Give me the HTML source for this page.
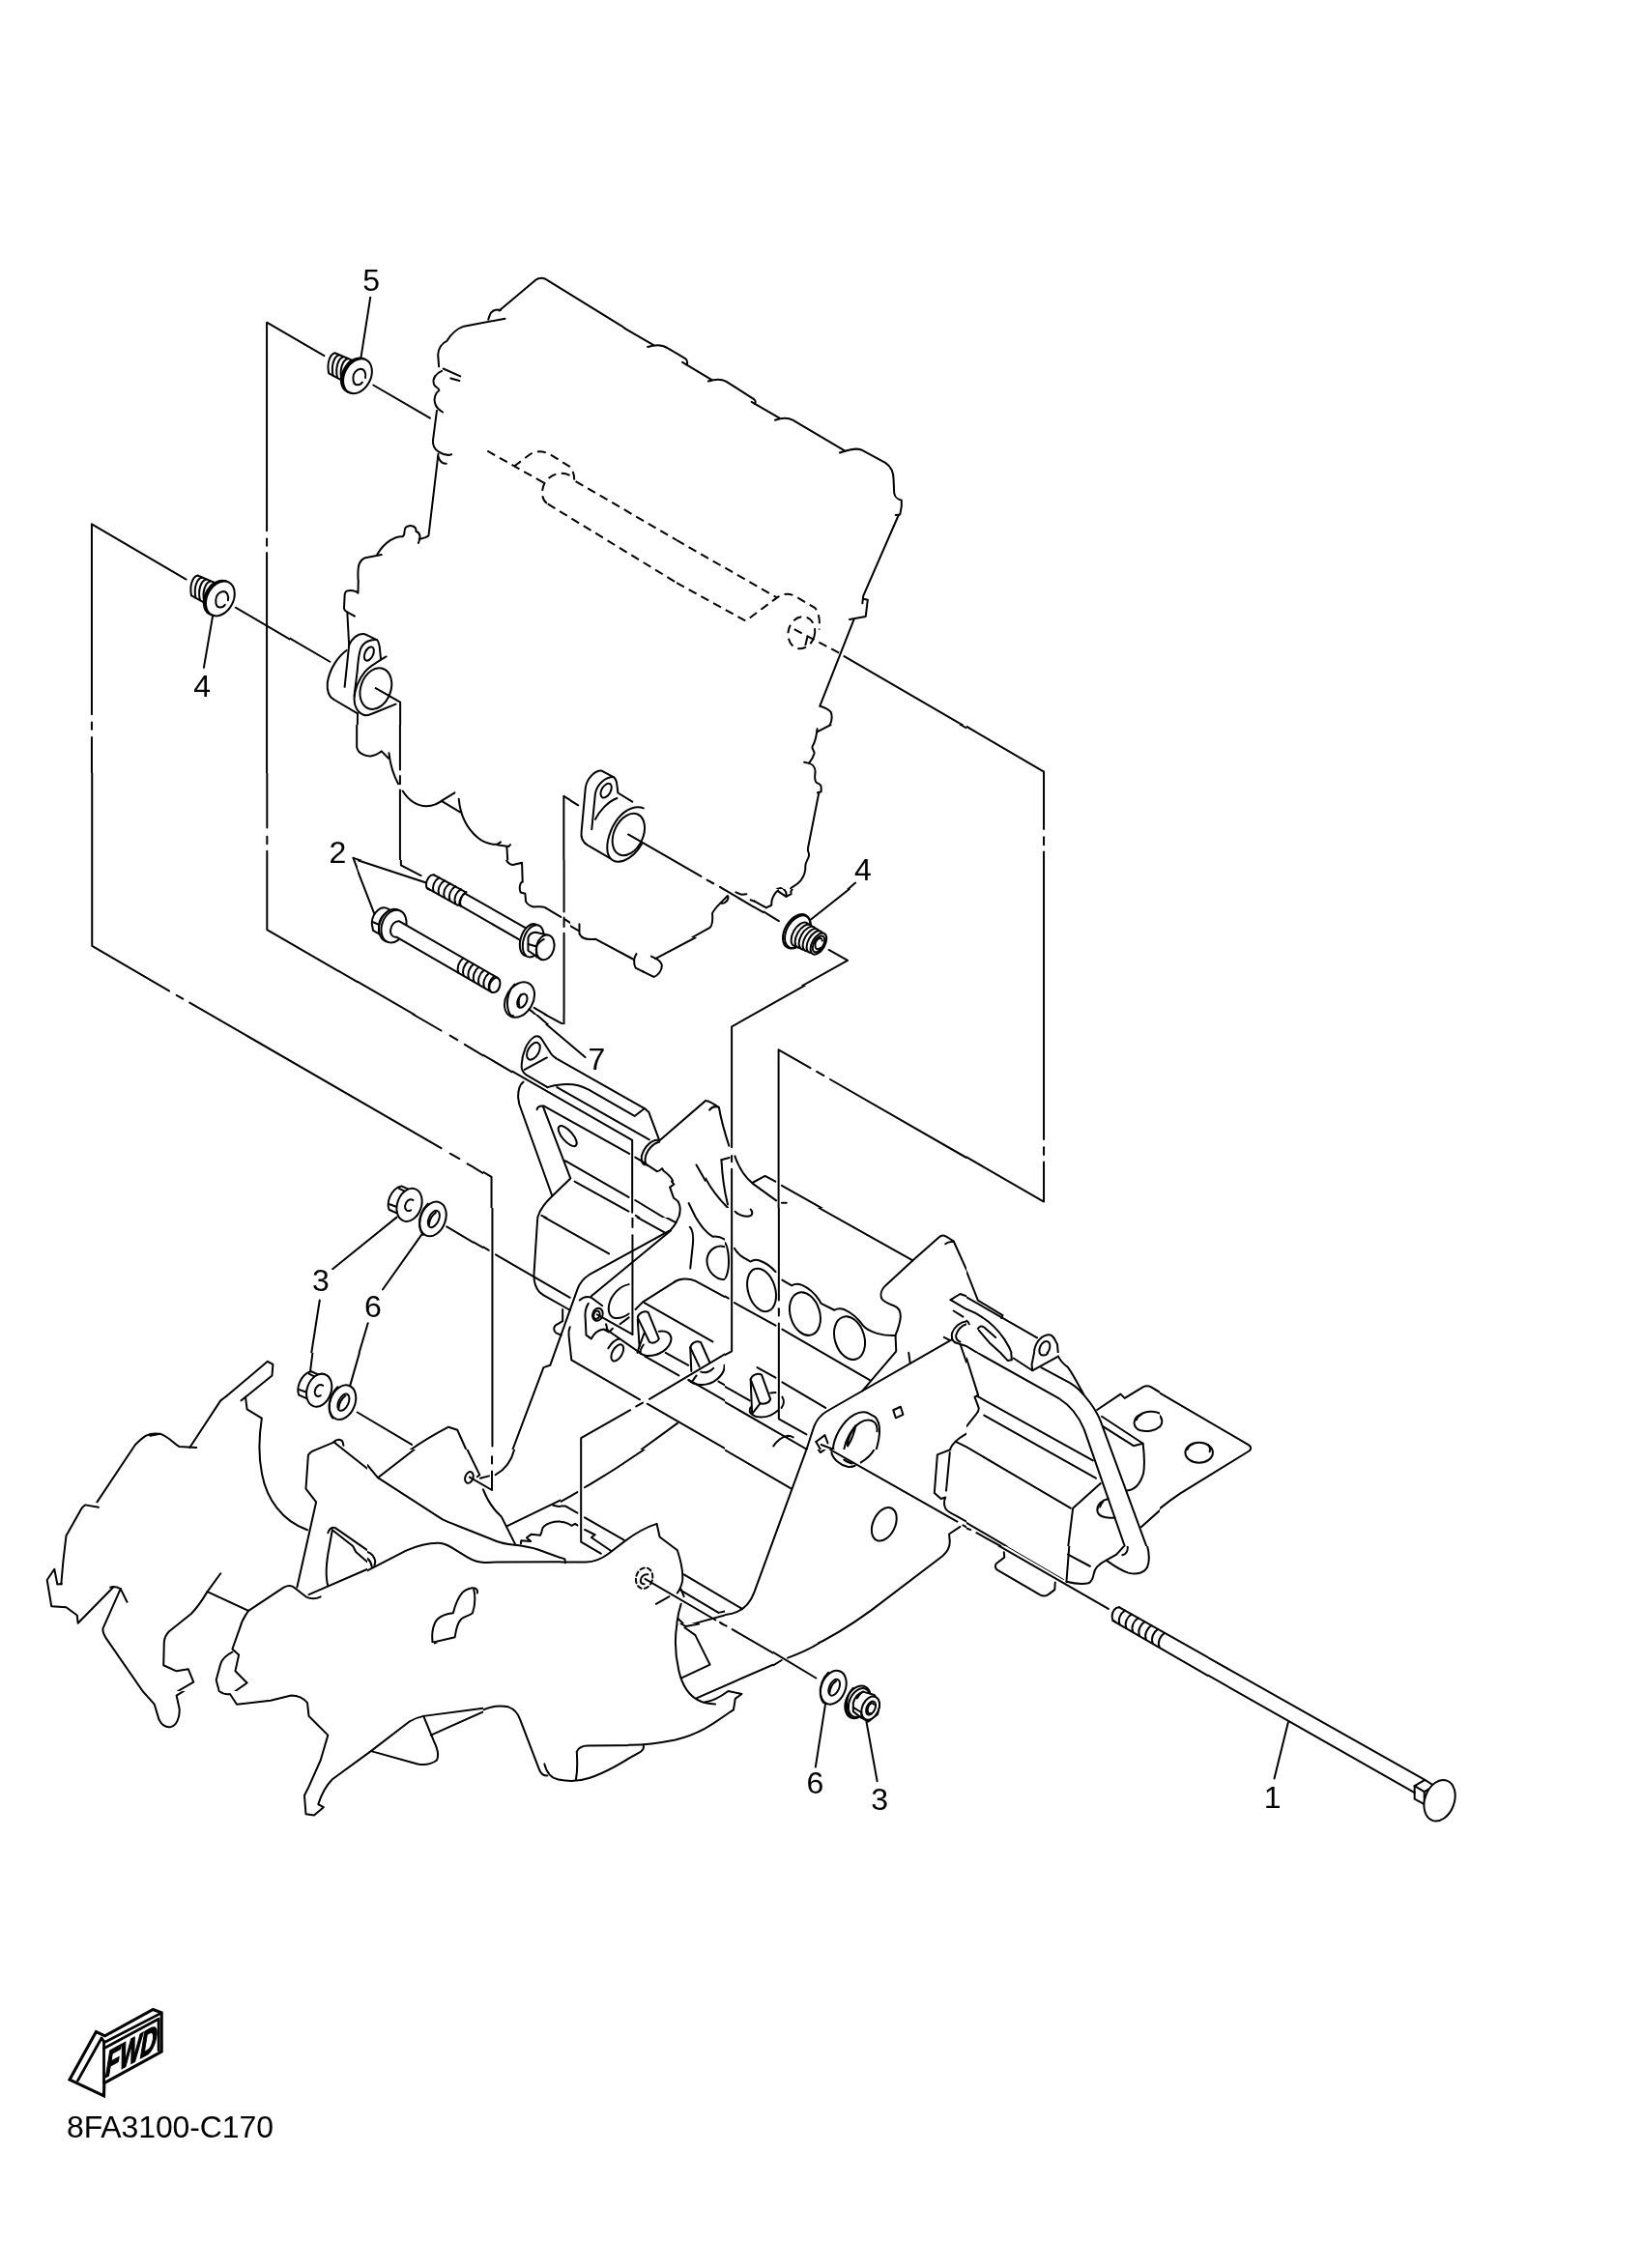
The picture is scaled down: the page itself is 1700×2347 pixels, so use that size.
<!DOCTYPE html>
<html><head><meta charset="utf-8"><title>8FA3100-C170</title>
<style>
html,body{margin:0;padding:0;background:#fff;}
body{width:1700px;height:2347px;overflow:hidden;position:relative;}
svg.main{position:absolute;left:0;top:0;will-change:transform;}
.l path,.l line,.l ellipse,.l circle,.l polyline{fill:none;stroke:#000;stroke-width:2;vector-effect:non-scaling-stroke;stroke-linecap:round;stroke-linejoin:round;}
.l .w{fill:#fff;}
.l .b{fill:#000;}
.l .k{stroke-width:3.2;}
.l .d{stroke-dasharray:9 5.5;stroke-linecap:butt;}
text{font-family:"Liberation Sans",sans-serif;fill:#000;stroke:none;}
</style></head><body>
<svg class="main l" width="1700" height="2347" viewBox="0 0 1700 2347">
<defs><clipPath id="c0"><rect x="200" y="250" width="90" height="250"/><rect x="290" y="250" width="10" height="250"/><rect x="300" y="250" width="50" height="250"/><rect x="300" y="500" width="50" height="100"/><rect x="350" y="250" width="20" height="250"/><rect x="350" y="500" width="20" height="100"/><rect x="370" y="250" width="10" height="250"/><rect x="370" y="500" width="10" height="100"/><rect x="380" y="250" width="110" height="250"/><rect x="380" y="500" width="110" height="100"/><rect x="490" y="250" width="10" height="250"/><rect x="490" y="500" width="10" height="100"/><rect x="500" y="250" width="30" height="250"/><rect x="500" y="500" width="30" height="100"/><rect x="530" y="250" width="20" height="250"/><rect x="530" y="500" width="20" height="100"/><rect x="550" y="250" width="30" height="250"/><rect x="550" y="500" width="30" height="100"/><rect x="550" y="600" width="30" height="150"/><rect x="580" y="250" width="10" height="250"/><rect x="580" y="500" width="10" height="100"/><rect x="580" y="600" width="10" height="150"/><rect x="590" y="250" width="60" height="250"/><rect x="590" y="500" width="60" height="100"/><rect x="590" y="600" width="60" height="150"/><rect x="650" y="250" width="50" height="250"/><rect x="650" y="500" width="50" height="100"/><rect x="650" y="600" width="50" height="150"/></clipPath><clipPath id="c1"><rect x="700" y="250" width="30" height="250"/><rect x="700" y="500" width="30" height="100"/><rect x="700" y="600" width="30" height="150"/><rect x="730" y="250" width="20" height="250"/><rect x="730" y="500" width="20" height="100"/><rect x="730" y="600" width="20" height="150"/><rect x="750" y="250" width="30" height="250"/><rect x="750" y="500" width="30" height="100"/><rect x="750" y="600" width="30" height="150"/><rect x="780" y="250" width="10" height="250"/><rect x="780" y="500" width="10" height="100"/><rect x="780" y="600" width="10" height="150"/><rect x="790" y="250" width="10" height="250"/><rect x="790" y="500" width="10" height="100"/><rect x="790" y="600" width="10" height="150"/><rect x="800" y="250" width="90" height="250"/><rect x="800" y="500" width="90" height="100"/><rect x="800" y="600" width="90" height="150"/><rect x="890" y="250" width="70" height="250"/><rect x="890" y="500" width="70" height="100"/><rect x="890" y="600" width="70" height="150"/><rect x="960" y="250" width="40" height="250"/><rect x="960" y="500" width="40" height="100"/><rect x="960" y="600" width="40" height="150"/><rect x="1000" y="250" width="100" height="250"/><rect x="1000" y="500" width="100" height="100"/><rect x="1000" y="600" width="100" height="150"/><rect x="1100" y="250" width="100" height="250"/><rect x="1100" y="500" width="100" height="100"/><rect x="1100" y="600" width="100" height="150"/></clipPath><clipPath id="c2"><rect x="370" y="890" width="10" height="30"/><rect x="370" y="920" width="10" height="50"/><rect x="370" y="970" width="10" height="30"/><rect x="370" y="1000" width="10" height="20"/><rect x="370" y="1020" width="10" height="30"/><rect x="380" y="890" width="110" height="30"/><rect x="380" y="920" width="110" height="50"/><rect x="380" y="970" width="110" height="30"/><rect x="380" y="1000" width="110" height="20"/><rect x="380" y="1020" width="110" height="30"/><rect x="490" y="890" width="10" height="30"/><rect x="490" y="920" width="10" height="50"/><rect x="490" y="970" width="10" height="30"/><rect x="490" y="1000" width="10" height="20"/><rect x="490" y="1020" width="10" height="30"/><rect x="500" y="890" width="30" height="30"/><rect x="500" y="920" width="30" height="50"/><rect x="500" y="970" width="30" height="30"/><rect x="500" y="1000" width="30" height="20"/><rect x="500" y="1020" width="30" height="30"/><rect x="530" y="890" width="20" height="30"/><rect x="530" y="920" width="20" height="50"/><rect x="530" y="970" width="20" height="30"/><rect x="530" y="1000" width="20" height="20"/><rect x="530" y="1020" width="20" height="30"/><rect x="550" y="890" width="30" height="30"/><rect x="550" y="920" width="30" height="50"/><rect x="550" y="970" width="30" height="30"/><rect x="550" y="1000" width="30" height="20"/><rect x="550" y="1020" width="30" height="30"/><rect x="580" y="890" width="10" height="30"/><rect x="580" y="920" width="10" height="50"/><rect x="580" y="970" width="10" height="30"/><rect x="580" y="1000" width="10" height="20"/><rect x="580" y="1020" width="10" height="30"/></clipPath><clipPath id="c3"><rect x="0" y="500" width="50" height="100"/><rect x="0" y="600" width="50" height="150"/><rect x="0" y="750" width="50" height="20"/><rect x="0" y="770" width="50" height="30"/><rect x="50" y="500" width="150" height="100"/><rect x="50" y="600" width="150" height="150"/><rect x="50" y="750" width="150" height="20"/><rect x="50" y="770" width="150" height="30"/><rect x="200" y="500" width="90" height="100"/><rect x="200" y="600" width="90" height="150"/><rect x="200" y="750" width="90" height="20"/><rect x="200" y="770" width="90" height="30"/><rect x="290" y="500" width="10" height="100"/><rect x="290" y="600" width="10" height="150"/><rect x="290" y="750" width="10" height="20"/><rect x="290" y="770" width="10" height="30"/></clipPath><clipPath id="c4"><rect x="300" y="600" width="50" height="150"/><rect x="300" y="750" width="50" height="20"/><rect x="300" y="770" width="50" height="30"/><rect x="300" y="800" width="50" height="50"/><rect x="350" y="600" width="20" height="150"/><rect x="370" y="600" width="10" height="150"/><rect x="380" y="600" width="110" height="150"/><rect x="490" y="600" width="10" height="150"/><rect x="500" y="600" width="30" height="150"/><rect x="530" y="600" width="20" height="150"/></clipPath><clipPath id="c5"><rect x="350" y="750" width="20" height="20"/><rect x="350" y="770" width="20" height="30"/><rect x="350" y="800" width="20" height="50"/><rect x="350" y="850" width="20" height="40"/><rect x="350" y="890" width="20" height="30"/><rect x="350" y="920" width="20" height="50"/><rect x="350" y="970" width="20" height="30"/><rect x="350" y="1000" width="20" height="20"/><rect x="350" y="1020" width="20" height="30"/><rect x="370" y="750" width="10" height="20"/><rect x="370" y="770" width="10" height="30"/><rect x="370" y="800" width="10" height="50"/><rect x="370" y="850" width="10" height="40"/><rect x="380" y="750" width="110" height="20"/><rect x="380" y="770" width="110" height="30"/><rect x="380" y="800" width="110" height="50"/><rect x="380" y="850" width="110" height="40"/><rect x="490" y="750" width="10" height="20"/><rect x="490" y="770" width="10" height="30"/><rect x="490" y="800" width="10" height="50"/><rect x="490" y="850" width="10" height="40"/><rect x="500" y="750" width="30" height="20"/><rect x="500" y="770" width="30" height="30"/><rect x="500" y="800" width="30" height="50"/><rect x="500" y="850" width="30" height="40"/><rect x="530" y="750" width="20" height="20"/><rect x="530" y="770" width="20" height="30"/><rect x="530" y="800" width="20" height="50"/><rect x="530" y="850" width="20" height="40"/><rect x="550" y="750" width="30" height="20"/><rect x="550" y="770" width="30" height="30"/><rect x="550" y="800" width="30" height="50"/><rect x="550" y="850" width="30" height="40"/><rect x="580" y="750" width="10" height="20"/><rect x="580" y="770" width="10" height="30"/><rect x="580" y="800" width="10" height="50"/><rect x="580" y="850" width="10" height="40"/><rect x="590" y="750" width="60" height="20"/></clipPath><clipPath id="c6"><rect x="0" y="800" width="50" height="50"/><rect x="0" y="850" width="50" height="40"/><rect x="0" y="890" width="50" height="30"/><rect x="0" y="920" width="50" height="50"/><rect x="0" y="970" width="50" height="30"/><rect x="0" y="1000" width="50" height="20"/><rect x="0" y="1020" width="50" height="30"/><rect x="0" y="1050" width="50" height="10"/><rect x="0" y="1060" width="50" height="140"/><rect x="0" y="1200" width="50" height="50"/><rect x="50" y="800" width="150" height="50"/><rect x="50" y="850" width="150" height="40"/><rect x="50" y="890" width="150" height="30"/><rect x="50" y="920" width="150" height="50"/><rect x="50" y="970" width="150" height="30"/><rect x="50" y="1000" width="150" height="20"/><rect x="50" y="1020" width="150" height="30"/><rect x="50" y="1050" width="150" height="10"/><rect x="50" y="1060" width="150" height="140"/><rect x="50" y="1200" width="150" height="50"/><rect x="200" y="800" width="90" height="50"/><rect x="200" y="850" width="90" height="40"/><rect x="200" y="890" width="90" height="30"/><rect x="200" y="920" width="90" height="50"/><rect x="200" y="970" width="90" height="30"/><rect x="200" y="1000" width="90" height="20"/><rect x="200" y="1020" width="90" height="30"/><rect x="200" y="1050" width="90" height="10"/><rect x="200" y="1060" width="90" height="140"/><rect x="200" y="1200" width="90" height="50"/><rect x="290" y="800" width="10" height="50"/><rect x="290" y="850" width="10" height="40"/><rect x="290" y="890" width="10" height="30"/><rect x="290" y="920" width="10" height="50"/><rect x="290" y="970" width="10" height="30"/><rect x="290" y="1000" width="10" height="20"/><rect x="290" y="1020" width="10" height="30"/><rect x="290" y="1050" width="10" height="10"/><rect x="290" y="1060" width="10" height="140"/><rect x="300" y="850" width="50" height="40"/><rect x="300" y="890" width="50" height="30"/><rect x="300" y="920" width="50" height="50"/><rect x="300" y="970" width="50" height="30"/><rect x="300" y="1000" width="50" height="20"/><rect x="300" y="1020" width="50" height="30"/><rect x="300" y="1050" width="50" height="10"/><rect x="300" y="1060" width="50" height="140"/><rect x="350" y="1050" width="20" height="10"/><rect x="350" y="1060" width="20" height="140"/><rect x="370" y="1050" width="10" height="10"/><rect x="370" y="1060" width="10" height="140"/><rect x="380" y="1050" width="110" height="10"/><rect x="380" y="1060" width="110" height="140"/><rect x="490" y="1050" width="10" height="10"/><rect x="490" y="1060" width="10" height="140"/><rect x="490" y="1200" width="10" height="50"/></clipPath><clipPath id="c7"><rect x="1000" y="750" width="100" height="20"/><rect x="1000" y="770" width="100" height="30"/><rect x="1000" y="800" width="100" height="50"/><rect x="1000" y="850" width="100" height="40"/><rect x="1000" y="890" width="100" height="30"/><rect x="1000" y="920" width="100" height="50"/><rect x="1000" y="970" width="100" height="30"/><rect x="1000" y="1000" width="100" height="20"/><rect x="1000" y="1020" width="100" height="30"/><rect x="1000" y="1050" width="100" height="10"/><rect x="1000" y="1060" width="100" height="140"/><rect x="1000" y="1200" width="100" height="50"/><rect x="1100" y="750" width="100" height="20"/><rect x="1100" y="770" width="100" height="30"/><rect x="1100" y="800" width="100" height="50"/><rect x="1100" y="850" width="100" height="40"/><rect x="1100" y="890" width="100" height="30"/><rect x="1100" y="920" width="100" height="50"/><rect x="1100" y="970" width="100" height="30"/><rect x="1100" y="1000" width="100" height="20"/><rect x="1100" y="1020" width="100" height="30"/><rect x="1100" y="1050" width="100" height="10"/><rect x="1100" y="1060" width="100" height="140"/><rect x="1100" y="1200" width="100" height="50"/><rect x="1200" y="750" width="50" height="20"/><rect x="1200" y="770" width="50" height="30"/><rect x="1200" y="800" width="50" height="50"/><rect x="1200" y="850" width="50" height="40"/><rect x="1200" y="890" width="50" height="30"/><rect x="1200" y="920" width="50" height="50"/><rect x="1200" y="970" width="50" height="30"/><rect x="1200" y="1000" width="50" height="20"/><rect x="1200" y="1020" width="50" height="30"/><rect x="1200" y="1050" width="50" height="10"/><rect x="1200" y="1060" width="50" height="140"/><rect x="1200" y="1200" width="50" height="50"/><rect x="1250" y="750" width="50" height="20"/><rect x="1250" y="770" width="50" height="30"/><rect x="1250" y="800" width="50" height="50"/><rect x="1250" y="850" width="50" height="40"/><rect x="1250" y="890" width="50" height="30"/><rect x="1250" y="920" width="50" height="50"/><rect x="1250" y="970" width="50" height="30"/><rect x="1250" y="1000" width="50" height="20"/><rect x="1250" y="1020" width="50" height="30"/><rect x="1250" y="1050" width="50" height="10"/><rect x="1250" y="1060" width="50" height="140"/><rect x="1250" y="1200" width="50" height="50"/><rect x="1300" y="750" width="200" height="20"/><rect x="1300" y="770" width="200" height="30"/><rect x="1300" y="800" width="200" height="50"/><rect x="1300" y="850" width="200" height="40"/><rect x="1300" y="890" width="200" height="30"/><rect x="1300" y="920" width="200" height="50"/><rect x="1300" y="970" width="200" height="30"/><rect x="1300" y="1000" width="200" height="20"/><rect x="1300" y="1020" width="200" height="30"/><rect x="1300" y="1050" width="200" height="10"/><rect x="1300" y="1060" width="200" height="140"/><rect x="1300" y="1200" width="200" height="50"/></clipPath><clipPath id="c8"><rect x="50" y="2060" width="150" height="40"/><rect x="50" y="2100" width="150" height="90"/><rect x="200" y="2060" width="90" height="40"/><rect x="200" y="2100" width="90" height="90"/><rect x="290" y="2060" width="10" height="40"/><rect x="290" y="2100" width="10" height="90"/></clipPath><clipPath id="c9"><rect x="0" y="1250" width="50" height="10"/><rect x="0" y="1260" width="50" height="40"/><rect x="0" y="1300" width="50" height="100"/><rect x="0" y="1400" width="50" height="100"/><rect x="0" y="1500" width="50" height="50"/><rect x="0" y="1550" width="50" height="50"/><rect x="0" y="1600" width="50" height="80"/><rect x="0" y="1680" width="50" height="20"/><rect x="0" y="1700" width="50" height="50"/><rect x="50" y="1250" width="150" height="10"/><rect x="50" y="1260" width="150" height="40"/><rect x="50" y="1300" width="150" height="100"/><rect x="50" y="1400" width="150" height="100"/><rect x="50" y="1500" width="150" height="50"/><rect x="50" y="1550" width="150" height="50"/><rect x="50" y="1600" width="150" height="80"/><rect x="50" y="1680" width="150" height="20"/><rect x="50" y="1700" width="150" height="50"/><rect x="200" y="1250" width="90" height="10"/><rect x="200" y="1260" width="90" height="40"/><rect x="200" y="1300" width="90" height="100"/><rect x="200" y="1400" width="90" height="100"/><rect x="200" y="1500" width="90" height="50"/><rect x="200" y="1550" width="90" height="50"/><rect x="200" y="1600" width="90" height="80"/><rect x="200" y="1680" width="90" height="20"/><rect x="200" y="1700" width="90" height="50"/><rect x="290" y="1400" width="10" height="100"/><rect x="290" y="1500" width="10" height="50"/><rect x="290" y="1550" width="10" height="50"/><rect x="290" y="1600" width="10" height="80"/><rect x="290" y="1680" width="10" height="20"/><rect x="290" y="1700" width="10" height="50"/><rect x="300" y="1400" width="50" height="100"/><rect x="300" y="1500" width="50" height="50"/><rect x="300" y="1550" width="50" height="50"/><rect x="300" y="1600" width="50" height="80"/><rect x="300" y="1680" width="50" height="20"/><rect x="300" y="1700" width="50" height="50"/><rect x="350" y="1400" width="20" height="100"/><rect x="350" y="1500" width="20" height="50"/><rect x="350" y="1550" width="20" height="50"/><rect x="350" y="1600" width="20" height="80"/><rect x="350" y="1680" width="20" height="20"/><rect x="350" y="1700" width="20" height="50"/><rect x="370" y="1400" width="10" height="100"/><rect x="370" y="1500" width="10" height="50"/><rect x="370" y="1550" width="10" height="50"/><rect x="370" y="1600" width="10" height="80"/><rect x="370" y="1680" width="10" height="20"/><rect x="370" y="1700" width="10" height="50"/><rect x="380" y="1400" width="110" height="100"/><rect x="380" y="1700" width="110" height="50"/><rect x="490" y="1250" width="10" height="10"/><rect x="490" y="1260" width="10" height="40"/><rect x="490" y="1300" width="10" height="100"/><rect x="490" y="1400" width="10" height="100"/><rect x="490" y="1700" width="10" height="50"/></clipPath><clipPath id="c10"><rect x="1000" y="1300" width="100" height="100"/><rect x="1100" y="1300" width="100" height="100"/><rect x="1200" y="1300" width="50" height="100"/><rect x="1200" y="1400" width="50" height="100"/><rect x="1200" y="1500" width="50" height="50"/><rect x="1200" y="1550" width="50" height="50"/><rect x="1250" y="1300" width="50" height="100"/><rect x="1250" y="1400" width="50" height="100"/><rect x="1250" y="1500" width="50" height="50"/><rect x="1250" y="1550" width="50" height="50"/></clipPath><clipPath id="c11"><rect x="1000" y="1400" width="100" height="100"/><rect x="1000" y="1500" width="100" height="50"/><rect x="1000" y="1550" width="100" height="50"/><rect x="1100" y="1400" width="100" height="100"/><rect x="1100" y="1500" width="100" height="50"/><rect x="1100" y="1550" width="100" height="50"/></clipPath><clipPath id="c12"><rect x="1000" y="1600" width="100" height="80"/><rect x="1000" y="1680" width="100" height="20"/><rect x="1000" y="1700" width="100" height="50"/><rect x="1000" y="1750" width="100" height="50"/><rect x="1100" y="1600" width="100" height="80"/><rect x="1100" y="1680" width="100" height="20"/><rect x="1100" y="1700" width="100" height="50"/><rect x="1100" y="1750" width="100" height="50"/><rect x="1200" y="1600" width="50" height="80"/><rect x="1200" y="1680" width="50" height="20"/><rect x="1200" y="1700" width="50" height="50"/><rect x="1200" y="1750" width="50" height="50"/></clipPath><clipPath id="c13"><rect x="0" y="1750" width="50" height="50"/><rect x="0" y="1800" width="50" height="20"/><rect x="0" y="1820" width="50" height="40"/><rect x="0" y="1860" width="50" height="200"/><rect x="0" y="2060" width="50" height="40"/><rect x="0" y="2100" width="50" height="90"/><rect x="0" y="2190" width="50" height="10"/><rect x="0" y="2200" width="50" height="50"/><rect x="50" y="1750" width="150" height="50"/><rect x="50" y="1800" width="150" height="20"/><rect x="50" y="1820" width="150" height="40"/><rect x="50" y="1860" width="150" height="200"/><rect x="50" y="2190" width="150" height="10"/><rect x="50" y="2200" width="150" height="50"/><rect x="200" y="1750" width="90" height="50"/><rect x="200" y="1800" width="90" height="20"/><rect x="200" y="1820" width="90" height="40"/><rect x="200" y="1860" width="90" height="200"/><rect x="200" y="2190" width="90" height="10"/><rect x="200" y="2200" width="90" height="50"/><rect x="290" y="1750" width="10" height="50"/><rect x="290" y="1800" width="10" height="20"/><rect x="290" y="1820" width="10" height="40"/><rect x="290" y="1860" width="10" height="200"/><rect x="290" y="2190" width="10" height="10"/><rect x="290" y="2200" width="10" height="50"/><rect x="300" y="1750" width="50" height="50"/><rect x="300" y="1800" width="50" height="20"/><rect x="300" y="1820" width="50" height="40"/><rect x="300" y="1860" width="50" height="200"/><rect x="300" y="2060" width="50" height="40"/><rect x="300" y="2100" width="50" height="90"/><rect x="300" y="2190" width="50" height="10"/><rect x="300" y="2200" width="50" height="50"/><rect x="350" y="1750" width="20" height="50"/><rect x="350" y="1800" width="20" height="20"/><rect x="350" y="1820" width="20" height="40"/><rect x="350" y="1860" width="20" height="200"/><rect x="350" y="2060" width="20" height="40"/><rect x="350" y="2100" width="20" height="90"/><rect x="350" y="2190" width="20" height="10"/><rect x="350" y="2200" width="20" height="50"/><rect x="370" y="1750" width="10" height="50"/><rect x="370" y="1800" width="10" height="20"/><rect x="370" y="1820" width="10" height="40"/><rect x="370" y="1860" width="10" height="200"/><rect x="370" y="2060" width="10" height="40"/><rect x="370" y="2100" width="10" height="90"/><rect x="370" y="2190" width="10" height="10"/><rect x="370" y="2200" width="10" height="50"/><rect x="380" y="1750" width="110" height="50"/><rect x="380" y="1800" width="110" height="20"/><rect x="380" y="1820" width="110" height="40"/><rect x="380" y="1860" width="110" height="200"/><rect x="380" y="2060" width="110" height="40"/><rect x="380" y="2100" width="110" height="90"/><rect x="380" y="2190" width="110" height="10"/><rect x="380" y="2200" width="110" height="50"/><rect x="490" y="1750" width="10" height="50"/><rect x="490" y="1800" width="10" height="20"/><rect x="490" y="1820" width="10" height="40"/><rect x="490" y="1860" width="10" height="200"/><rect x="490" y="2060" width="10" height="40"/><rect x="490" y="2100" width="10" height="90"/><rect x="490" y="2190" width="10" height="10"/><rect x="490" y="2200" width="10" height="50"/></clipPath><clipPath id="c14"><rect x="500" y="1750" width="30" height="50"/><rect x="500" y="1800" width="30" height="20"/><rect x="500" y="1820" width="30" height="40"/><rect x="500" y="1860" width="30" height="200"/><rect x="500" y="2060" width="30" height="40"/><rect x="500" y="2100" width="30" height="90"/><rect x="500" y="2190" width="30" height="10"/><rect x="530" y="1750" width="20" height="50"/><rect x="530" y="1800" width="20" height="20"/><rect x="530" y="1820" width="20" height="40"/><rect x="530" y="1860" width="20" height="200"/><rect x="530" y="2060" width="20" height="40"/><rect x="530" y="2100" width="20" height="90"/><rect x="530" y="2190" width="20" height="10"/><rect x="550" y="1750" width="30" height="50"/><rect x="550" y="1800" width="30" height="20"/><rect x="550" y="1820" width="30" height="40"/><rect x="550" y="1860" width="30" height="200"/><rect x="550" y="2060" width="30" height="40"/><rect x="550" y="2100" width="30" height="90"/><rect x="550" y="2190" width="30" height="10"/><rect x="580" y="1750" width="10" height="50"/><rect x="580" y="1800" width="10" height="20"/><rect x="580" y="1820" width="10" height="40"/><rect x="580" y="1860" width="10" height="200"/><rect x="580" y="2060" width="10" height="40"/><rect x="580" y="2100" width="10" height="90"/><rect x="580" y="2190" width="10" height="10"/><rect x="590" y="1750" width="60" height="50"/><rect x="590" y="1800" width="60" height="20"/><rect x="590" y="1820" width="60" height="40"/><rect x="590" y="1860" width="60" height="200"/><rect x="590" y="2060" width="60" height="40"/><rect x="590" y="2100" width="60" height="90"/><rect x="590" y="2190" width="60" height="10"/><rect x="650" y="1820" width="50" height="40"/><rect x="650" y="1860" width="50" height="200"/><rect x="650" y="2060" width="50" height="40"/><rect x="650" y="2100" width="50" height="90"/><rect x="650" y="2190" width="50" height="10"/><rect x="700" y="1820" width="30" height="40"/><rect x="700" y="1860" width="30" height="200"/><rect x="700" y="2060" width="30" height="40"/><rect x="700" y="2100" width="30" height="90"/><rect x="700" y="2190" width="30" height="10"/><rect x="730" y="1820" width="20" height="40"/><rect x="730" y="1860" width="20" height="200"/><rect x="730" y="2060" width="20" height="40"/><rect x="730" y="2100" width="20" height="90"/><rect x="730" y="2190" width="20" height="10"/><rect x="750" y="1820" width="30" height="40"/><rect x="750" y="1860" width="30" height="200"/><rect x="750" y="2060" width="30" height="40"/><rect x="750" y="2100" width="30" height="90"/><rect x="750" y="2190" width="30" height="10"/><rect x="780" y="1820" width="10" height="40"/><rect x="780" y="1860" width="10" height="200"/><rect x="780" y="2060" width="10" height="40"/><rect x="780" y="2100" width="10" height="90"/><rect x="780" y="2190" width="10" height="10"/><rect x="790" y="1820" width="10" height="40"/><rect x="790" y="1860" width="10" height="200"/><rect x="790" y="2060" width="10" height="40"/><rect x="790" y="2100" width="10" height="90"/><rect x="790" y="2190" width="10" height="10"/><rect x="800" y="1860" width="90" height="200"/><rect x="800" y="2060" width="90" height="40"/><rect x="800" y="2100" width="90" height="90"/><rect x="800" y="2190" width="90" height="10"/><rect x="890" y="1860" width="70" height="200"/><rect x="890" y="2060" width="70" height="40"/><rect x="890" y="2100" width="70" height="90"/><rect x="890" y="2190" width="70" height="10"/><rect x="960" y="1750" width="40" height="50"/><rect x="960" y="1800" width="40" height="20"/><rect x="960" y="1820" width="40" height="40"/><rect x="960" y="1860" width="40" height="200"/><rect x="960" y="2060" width="40" height="40"/><rect x="960" y="2100" width="40" height="90"/><rect x="960" y="2190" width="40" height="10"/></clipPath><clipPath id="c15"><rect x="1100" y="1800" width="100" height="20"/><rect x="1100" y="1820" width="100" height="40"/><rect x="1100" y="1860" width="100" height="200"/><rect x="1100" y="2060" width="100" height="40"/><rect x="1200" y="1800" width="50" height="20"/><rect x="1200" y="1820" width="50" height="40"/><rect x="1200" y="1860" width="50" height="200"/><rect x="1200" y="2060" width="50" height="40"/><rect x="1250" y="1600" width="50" height="80"/><rect x="1250" y="1680" width="50" height="20"/><rect x="1250" y="1700" width="50" height="50"/><rect x="1250" y="1750" width="50" height="50"/><rect x="1250" y="1800" width="50" height="20"/><rect x="1250" y="1820" width="50" height="40"/><rect x="1250" y="1860" width="50" height="200"/><rect x="1250" y="2060" width="50" height="40"/><rect x="1300" y="1600" width="200" height="80"/><rect x="1300" y="1680" width="200" height="20"/><rect x="1300" y="1700" width="200" height="50"/><rect x="1300" y="1750" width="200" height="50"/><rect x="1300" y="1800" width="200" height="20"/><rect x="1300" y="1820" width="200" height="40"/><rect x="1300" y="1860" width="200" height="200"/><rect x="1300" y="2060" width="200" height="40"/><rect x="1500" y="1600" width="100" height="80"/><rect x="1500" y="1680" width="100" height="20"/><rect x="1500" y="1700" width="100" height="50"/><rect x="1500" y="1750" width="100" height="50"/><rect x="1500" y="1800" width="100" height="20"/><rect x="1500" y="1820" width="100" height="40"/><rect x="1500" y="1860" width="100" height="200"/><rect x="1500" y="2060" width="100" height="40"/></clipPath><clipPath id="c16"><rect x="590" y="770" width="60" height="30"/><rect x="590" y="800" width="60" height="50"/><rect x="590" y="850" width="60" height="40"/><rect x="590" y="890" width="60" height="30"/><rect x="590" y="920" width="60" height="50"/><rect x="650" y="770" width="50" height="30"/><rect x="650" y="800" width="50" height="50"/><rect x="650" y="850" width="50" height="40"/><rect x="650" y="890" width="50" height="30"/><rect x="650" y="920" width="50" height="50"/><rect x="700" y="770" width="30" height="30"/><rect x="700" y="800" width="30" height="50"/><rect x="700" y="850" width="30" height="40"/><rect x="700" y="890" width="30" height="30"/><rect x="700" y="920" width="30" height="50"/><rect x="730" y="770" width="20" height="30"/><rect x="730" y="800" width="20" height="50"/><rect x="730" y="850" width="20" height="40"/><rect x="730" y="890" width="20" height="30"/><rect x="730" y="920" width="20" height="50"/><rect x="750" y="770" width="30" height="30"/><rect x="750" y="800" width="30" height="50"/><rect x="750" y="850" width="30" height="40"/><rect x="750" y="890" width="30" height="30"/><rect x="750" y="920" width="30" height="50"/></clipPath><clipPath id="c17"><rect x="750" y="750" width="30" height="20"/><rect x="750" y="970" width="30" height="30"/><rect x="780" y="750" width="10" height="20"/><rect x="780" y="770" width="10" height="30"/><rect x="780" y="800" width="10" height="50"/><rect x="780" y="850" width="10" height="40"/><rect x="780" y="890" width="10" height="30"/><rect x="780" y="920" width="10" height="50"/><rect x="780" y="970" width="10" height="30"/><rect x="790" y="750" width="10" height="20"/><rect x="790" y="770" width="10" height="30"/><rect x="790" y="800" width="10" height="50"/><rect x="790" y="850" width="10" height="40"/><rect x="790" y="890" width="10" height="30"/><rect x="800" y="750" width="90" height="20"/><rect x="800" y="770" width="90" height="30"/><rect x="800" y="800" width="90" height="50"/><rect x="800" y="850" width="90" height="40"/><rect x="800" y="890" width="90" height="30"/><rect x="890" y="750" width="70" height="20"/><rect x="890" y="770" width="70" height="30"/><rect x="890" y="800" width="70" height="50"/><rect x="890" y="850" width="70" height="40"/><rect x="890" y="890" width="70" height="30"/><rect x="890" y="920" width="70" height="50"/><rect x="890" y="970" width="70" height="30"/><rect x="960" y="750" width="40" height="20"/><rect x="960" y="770" width="40" height="30"/><rect x="960" y="800" width="40" height="50"/><rect x="960" y="850" width="40" height="40"/><rect x="960" y="890" width="40" height="30"/><rect x="960" y="920" width="40" height="50"/><rect x="960" y="970" width="40" height="30"/></clipPath><clipPath id="c18"><rect x="500" y="1050" width="30" height="10"/><rect x="500" y="1060" width="30" height="140"/><rect x="500" y="1200" width="30" height="50"/><rect x="530" y="1050" width="20" height="10"/><rect x="550" y="1050" width="30" height="10"/><rect x="580" y="1050" width="10" height="10"/><rect x="590" y="970" width="60" height="30"/><rect x="590" y="1000" width="60" height="20"/><rect x="590" y="1020" width="60" height="30"/><rect x="590" y="1050" width="60" height="10"/><rect x="650" y="970" width="50" height="30"/><rect x="650" y="1000" width="50" height="20"/><rect x="650" y="1020" width="50" height="30"/><rect x="650" y="1050" width="50" height="10"/><rect x="700" y="970" width="30" height="30"/><rect x="700" y="1000" width="30" height="20"/><rect x="700" y="1020" width="30" height="30"/><rect x="700" y="1050" width="30" height="10"/><rect x="730" y="970" width="20" height="30"/></clipPath><clipPath id="c19"><rect x="530" y="1060" width="20" height="140"/><rect x="530" y="1200" width="20" height="50"/><rect x="530" y="1250" width="20" height="10"/><rect x="550" y="1060" width="30" height="140"/><rect x="550" y="1200" width="30" height="50"/><rect x="550" y="1250" width="30" height="10"/><rect x="580" y="1060" width="10" height="140"/><rect x="580" y="1200" width="10" height="50"/><rect x="580" y="1250" width="10" height="10"/><rect x="590" y="1060" width="60" height="140"/><rect x="590" y="1200" width="60" height="50"/><rect x="590" y="1250" width="60" height="10"/><rect x="650" y="1060" width="50" height="140"/><rect x="650" y="1200" width="50" height="50"/><rect x="650" y="1250" width="50" height="10"/><rect x="700" y="1060" width="30" height="140"/><rect x="700" y="1200" width="30" height="50"/><rect x="700" y="1250" width="30" height="10"/></clipPath><clipPath id="c20"><rect x="730" y="1000" width="20" height="20"/><rect x="730" y="1020" width="20" height="30"/><rect x="730" y="1050" width="20" height="10"/><rect x="730" y="1060" width="20" height="140"/><rect x="730" y="1200" width="20" height="50"/><rect x="750" y="1000" width="30" height="20"/><rect x="750" y="1020" width="30" height="30"/><rect x="750" y="1050" width="30" height="10"/><rect x="750" y="1060" width="30" height="140"/><rect x="750" y="1200" width="30" height="50"/><rect x="780" y="1000" width="10" height="20"/><rect x="780" y="1020" width="10" height="30"/><rect x="780" y="1050" width="10" height="10"/><rect x="780" y="1060" width="10" height="140"/><rect x="780" y="1200" width="10" height="50"/><rect x="790" y="1020" width="10" height="30"/><rect x="790" y="1050" width="10" height="10"/><rect x="790" y="1060" width="10" height="140"/><rect x="790" y="1200" width="10" height="50"/><rect x="800" y="1020" width="90" height="30"/><rect x="800" y="1050" width="90" height="10"/><rect x="800" y="1060" width="90" height="140"/><rect x="800" y="1200" width="90" height="50"/><rect x="890" y="1000" width="70" height="20"/><rect x="890" y="1020" width="70" height="30"/><rect x="890" y="1050" width="70" height="10"/><rect x="890" y="1060" width="70" height="140"/><rect x="890" y="1200" width="70" height="50"/><rect x="960" y="1000" width="40" height="20"/><rect x="960" y="1020" width="40" height="30"/><rect x="960" y="1050" width="40" height="10"/><rect x="960" y="1060" width="40" height="140"/><rect x="960" y="1200" width="40" height="50"/></clipPath><clipPath id="c21"><rect x="290" y="1200" width="10" height="50"/><rect x="290" y="1250" width="10" height="10"/><rect x="290" y="1260" width="10" height="40"/><rect x="290" y="1300" width="10" height="100"/><rect x="300" y="1200" width="50" height="50"/><rect x="300" y="1250" width="50" height="10"/><rect x="300" y="1260" width="50" height="40"/><rect x="300" y="1300" width="50" height="100"/><rect x="350" y="1200" width="20" height="50"/><rect x="350" y="1250" width="20" height="10"/><rect x="350" y="1260" width="20" height="40"/><rect x="350" y="1300" width="20" height="100"/><rect x="370" y="1200" width="10" height="50"/><rect x="370" y="1250" width="10" height="10"/><rect x="370" y="1260" width="10" height="40"/><rect x="370" y="1300" width="10" height="100"/><rect x="380" y="1200" width="110" height="50"/><rect x="380" y="1250" width="110" height="10"/><rect x="380" y="1260" width="110" height="40"/><rect x="380" y="1300" width="110" height="100"/></clipPath><clipPath id="c22"><rect x="800" y="1700" width="90" height="50"/><rect x="800" y="1750" width="90" height="50"/><rect x="800" y="1800" width="90" height="20"/><rect x="800" y="1820" width="90" height="40"/><rect x="890" y="1700" width="70" height="50"/><rect x="890" y="1750" width="70" height="50"/><rect x="890" y="1800" width="70" height="20"/><rect x="890" y="1820" width="70" height="40"/></clipPath><clipPath id="c23"><rect x="500" y="1250" width="30" height="10"/><rect x="500" y="1260" width="30" height="40"/><rect x="500" y="1300" width="30" height="100"/><rect x="500" y="1400" width="30" height="100"/><rect x="530" y="1260" width="20" height="40"/><rect x="530" y="1300" width="20" height="100"/><rect x="530" y="1400" width="20" height="100"/><rect x="550" y="1260" width="30" height="40"/><rect x="550" y="1300" width="30" height="100"/><rect x="550" y="1400" width="30" height="100"/><rect x="580" y="1260" width="10" height="40"/><rect x="580" y="1300" width="10" height="100"/><rect x="580" y="1400" width="10" height="100"/><rect x="590" y="1260" width="60" height="40"/><rect x="590" y="1300" width="60" height="100"/><rect x="590" y="1400" width="60" height="100"/><rect x="650" y="1260" width="50" height="40"/><rect x="650" y="1300" width="50" height="100"/><rect x="650" y="1400" width="50" height="100"/><rect x="700" y="1260" width="30" height="40"/><rect x="700" y="1300" width="30" height="100"/><rect x="700" y="1400" width="30" height="100"/><rect x="730" y="1250" width="20" height="10"/><rect x="730" y="1260" width="20" height="40"/><rect x="730" y="1300" width="20" height="100"/><rect x="730" y="1400" width="20" height="100"/></clipPath><clipPath id="c24"><rect x="750" y="1250" width="30" height="10"/><rect x="750" y="1260" width="30" height="40"/><rect x="750" y="1300" width="30" height="100"/><rect x="750" y="1400" width="30" height="100"/><rect x="780" y="1250" width="10" height="10"/><rect x="780" y="1260" width="10" height="40"/><rect x="780" y="1300" width="10" height="100"/><rect x="780" y="1400" width="10" height="100"/><rect x="790" y="1250" width="10" height="10"/><rect x="790" y="1260" width="10" height="40"/><rect x="790" y="1300" width="10" height="100"/><rect x="790" y="1400" width="10" height="100"/><rect x="800" y="1250" width="90" height="10"/><rect x="800" y="1260" width="90" height="40"/><rect x="800" y="1300" width="90" height="100"/><rect x="800" y="1400" width="90" height="100"/><rect x="890" y="1250" width="70" height="10"/><rect x="890" y="1260" width="70" height="40"/><rect x="890" y="1300" width="70" height="100"/><rect x="890" y="1400" width="70" height="100"/><rect x="960" y="1250" width="40" height="10"/><rect x="960" y="1260" width="40" height="40"/><rect x="960" y="1300" width="40" height="100"/><rect x="960" y="1400" width="40" height="100"/></clipPath><clipPath id="c25"><rect x="500" y="1700" width="30" height="50"/><rect x="530" y="1700" width="20" height="50"/><rect x="550" y="1700" width="30" height="50"/><rect x="580" y="1500" width="10" height="50"/><rect x="580" y="1550" width="10" height="50"/><rect x="580" y="1600" width="10" height="80"/><rect x="580" y="1680" width="10" height="20"/><rect x="580" y="1700" width="10" height="50"/><rect x="590" y="1500" width="60" height="50"/><rect x="590" y="1550" width="60" height="50"/><rect x="590" y="1600" width="60" height="80"/><rect x="590" y="1680" width="60" height="20"/><rect x="590" y="1700" width="60" height="50"/><rect x="650" y="1500" width="50" height="50"/><rect x="650" y="1550" width="50" height="50"/><rect x="650" y="1600" width="50" height="80"/><rect x="700" y="1500" width="30" height="50"/><rect x="700" y="1550" width="30" height="50"/><rect x="700" y="1600" width="30" height="80"/><rect x="730" y="1500" width="20" height="50"/><rect x="730" y="1550" width="20" height="50"/><rect x="730" y="1600" width="20" height="80"/></clipPath><clipPath id="c26"><rect x="750" y="1500" width="30" height="50"/><rect x="750" y="1550" width="30" height="50"/><rect x="750" y="1600" width="30" height="80"/><rect x="780" y="1500" width="10" height="50"/><rect x="780" y="1550" width="10" height="50"/><rect x="780" y="1600" width="10" height="80"/><rect x="790" y="1500" width="10" height="50"/><rect x="790" y="1550" width="10" height="50"/><rect x="790" y="1600" width="10" height="80"/><rect x="800" y="1500" width="90" height="50"/><rect x="800" y="1550" width="90" height="50"/><rect x="800" y="1600" width="90" height="80"/><rect x="800" y="1680" width="90" height="20"/><rect x="890" y="1500" width="70" height="50"/><rect x="890" y="1550" width="70" height="50"/><rect x="890" y="1600" width="70" height="80"/><rect x="890" y="1680" width="70" height="20"/><rect x="960" y="1500" width="40" height="50"/><rect x="960" y="1550" width="40" height="50"/><rect x="960" y="1600" width="40" height="80"/><rect x="960" y="1680" width="40" height="20"/><rect x="960" y="1700" width="40" height="50"/></clipPath><clipPath id="c27"><rect x="650" y="1680" width="50" height="20"/><rect x="650" y="1700" width="50" height="50"/><rect x="650" y="1750" width="50" height="50"/><rect x="650" y="1800" width="50" height="20"/><rect x="700" y="1680" width="30" height="20"/><rect x="700" y="1700" width="30" height="50"/><rect x="700" y="1750" width="30" height="50"/><rect x="700" y="1800" width="30" height="20"/><rect x="730" y="1680" width="20" height="20"/><rect x="730" y="1700" width="20" height="50"/><rect x="730" y="1750" width="20" height="50"/><rect x="730" y="1800" width="20" height="20"/><rect x="750" y="1680" width="30" height="20"/><rect x="750" y="1700" width="30" height="50"/><rect x="750" y="1750" width="30" height="50"/><rect x="750" y="1800" width="30" height="20"/><rect x="780" y="1680" width="10" height="20"/><rect x="780" y="1700" width="10" height="50"/><rect x="780" y="1750" width="10" height="50"/><rect x="780" y="1800" width="10" height="20"/><rect x="790" y="1680" width="10" height="20"/><rect x="790" y="1700" width="10" height="50"/><rect x="790" y="1750" width="10" height="50"/><rect x="790" y="1800" width="10" height="20"/></clipPath><clipPath id="c28"><rect x="380" y="1500" width="110" height="50"/><rect x="380" y="1550" width="110" height="50"/><rect x="380" y="1600" width="110" height="80"/><rect x="380" y="1680" width="110" height="20"/><rect x="490" y="1500" width="10" height="50"/><rect x="490" y="1550" width="10" height="50"/><rect x="490" y="1600" width="10" height="80"/><rect x="490" y="1680" width="10" height="20"/><rect x="500" y="1500" width="30" height="50"/><rect x="500" y="1550" width="30" height="50"/><rect x="500" y="1600" width="30" height="80"/><rect x="500" y="1680" width="30" height="20"/><rect x="530" y="1500" width="20" height="50"/><rect x="530" y="1550" width="20" height="50"/><rect x="530" y="1600" width="20" height="80"/><rect x="530" y="1680" width="20" height="20"/><rect x="550" y="1500" width="30" height="50"/><rect x="550" y="1550" width="30" height="50"/><rect x="550" y="1600" width="30" height="80"/><rect x="550" y="1680" width="30" height="20"/></clipPath><clipPath id="c29"><rect x="790" y="920" width="10" height="50"/><rect x="790" y="970" width="10" height="30"/><rect x="790" y="1000" width="10" height="20"/><rect x="800" y="920" width="90" height="50"/><rect x="800" y="970" width="90" height="30"/><rect x="800" y="1000" width="90" height="20"/></clipPath><g id="screw">
<path class="w" d="M-40,-84 L-143,-127 C-170,-120 -190,-70 -177,-12 L-92,34 Z"/>
<path d="M-118,-116 C-146,-109 -166,-59 -153,1"/>
<path d="M-94,-105 C-122,-98 -142,-48 -129,12"/>
<path d="M-70,-94 C-98,-87 -118,-37 -105,23"/>
<path d="M-46,-83 C-74,-76 -94,-26 -81,34"/>
<ellipse class="w" cx="-26" cy="0" rx="74" ry="104" transform="rotate(28 -26 0)"/>
<ellipse class="w" cx="-20" cy="2" rx="74" ry="104" transform="rotate(28 -20 2)"/>
<ellipse class="w" cx="-14" cy="4" rx="74" ry="104" transform="rotate(28 -14 4)"/>
<path transform="translate(-2,11)" d="M32,3 C38,-25 25,-48 5,-48 C-18,-46 -37,-22 -37,0 C-38,25 -30,42 -15,43 C0,44 10,36 15,28"/>
</g>
<g id="nut">
<path class="w" d="M-12,-135 L-67,-160 C-107,-155 -147,-115 -167,-65 C-182,-25 -182,15 -172,40 L-107,70 Z"/>
<path d="M-87,-140 L-32,-113"/>
<path d="M-167,-5 L-112,15"/>
<ellipse class="w" cx="0" cy="0" rx="102" ry="144" transform="rotate(20)"/>
<path d="M33,-40 C3,-60 -32,-30 -37,10 C-39,45 -17,60 13,45"/>
</g>
<g id="washer">
<ellipse class="w" cx="0" cy="0" rx="105" ry="152" transform="rotate(22)"/>
<path d="M-43,-130 C-93,-85 -123,-5 -113,65 C-108,95 -98,120 -83,135"/>
<ellipse cx="7" cy="0" rx="42" ry="76" transform="rotate(25 7 0)"/>
<path d="M24,-55 C-8,-35 -33,10 -33,50"/>
</g>
</defs>
<g clip-path="url(#c0)"><g transform="translate(200,250) scale(0.304321)"><!-- a_200_250.txt -->
<path d="M602,190 L570,395"/>
<path d="M250,1643 L250,1065"/>
<path d="M250,1005 L250,1035"/>
<path d="M250,970 L250,275 L445,388"/>
<path d="M612,488 L805,600"/>
<g transform="translate(567,455) scale(0.6)"><use href="#screw"/></g>
<path d="M1040,235 L1165,130 C1175,122 1192,122 1202,130 L1455,286 L1470,297 L1565,352"/>
<path d="M1545,358 C1570,350 1595,350 1612,362 L1643,380"/>
<path d="M1045,233 C1030,228 1012,235 1008,250 L1003,265"/>
<path d="M1060,262 L920,288 C885,300 870,325 862,338 C845,345 832,365 832,385 L835,425"/>
<path d="M850,432 L908,458"/>
<path d="M875,465 L905,473"/>
<path d="M845,440 C825,448 812,465 818,485 C822,497 838,498 836,506 C822,515 817,535 822,550 C826,565 836,573 848,580"/>
<path d="M828,575 L815,675 C813,695 822,708 835,715 C850,725 865,728 878,724"/>
<path d="M832,730 C838,748 848,756 860,755"/>
<path d="M833,722 L800,1000 L790,1006 L768,1012"/>
<path d="M765,1025 C775,1008 772,990 757,985 C760,968 738,960 722,972 C714,982 722,998 712,1003 C690,1000 650,1020 625,1065"/>
<path d="M640,1065 L585,1075 C565,1083 560,1100 560,1130 L561,1190"/>
<path class="d" d="M1000,712 L1195,822"/>
<path class="d" d="M1090,765 L1140,727 C1160,710 1190,710 1215,725 L1280,765 C1293,780 1297,800 1295,815"/>
<path class="d" d="M1280,795 C1250,780 1215,790 1195,820 C1180,850 1185,880 1205,892"/>
<path class="d" d="M1300,815 L1643,1015"/>
<path class="d" d="M1205,892 L1643,1160"/>
</g></g>
<g clip-path="url(#c1)"><g transform="translate(700,250) scale(0.304321)"><!-- b_700_250.txt -->
<path d="M0,380 L30,398 C38,405 38,412 35,418"/>
<path d="M20,410 L120,470"/>
<path d="M108,475 C130,468 150,466 168,475 L262,535 C270,542 270,548 265,552"/>
<path d="M255,545 L350,600"/>
<path d="M335,607 C355,600 378,598 395,607 L570,710"/>
<path d="M555,718 C580,710 605,700 628,708 L710,752 C730,765 738,785 738,810 L740,855 C742,870 750,875 765,880 L765,900 L760,928 L745,930"/>
<path d="M755,930 L635,1205 L632,1230"/>
<path d="M635,1215 L650,1218 L643,1275 L588,1285"/>
<path d="M603,1285 L487,1580 C500,1583 515,1590 525,1600 C530,1615 528,1630 522,1643"/>
<path class="d" d="M0,1015 L340,1210"/>
<path class="d" d="M0,1160 L235,1290 L340,1212 C360,1195 385,1195 405,1207 L470,1245 C485,1260 488,1290 485,1320"/>
<ellipse class="d" cx="425" cy="1330" rx="45" ry="55" transform="rotate(15 425 1330)"/>
<path class="d" d="M400,1318 L555,1400"/>
<path class="d" d="M445,1345 L435,1385"/>
<path d="M570,1410 L1000,1660"/>
</g></g>
<g clip-path="url(#c2)"><g transform="translate(370,890) scale(0.133901)"><!-- bolts.txt -->
<path d="M-36,-11 L530,175"/>
<path d="M-36,-11 L128,412"/>
<path d="M335,-20 L335,40 L490,120"/>
<path class="w" style="stroke:none" d="M590,115 C560,110 530,150 530,190 C530,215 545,225 555,228 L775,350 L830,250 Z"/>
<path d="M590,115 C560,110 530,150 530,190 C530,215 545,225 555,228"/>
<path d="M590,115 L830,245"/>
<path d="M830,258 L1300,525"/>
<path d="M535,215 L775,350"/>
<path d="M780,345 L1250,615"/>
<path d="M630,135 C592,160 572,205 588,245"/>
<path d="M672,157.5 C634,182.5 614,227.5 630,267.5"/>
<path d="M714,180 C676,205 656,250 672,290"/>
<path d="M756,202.5 C718,227.5 698,272.5 714,312.5"/>
<path d="M798,225 C760,250 740,295 756,335"/>
<path d="M840,247.5 C802,272.5 782,317.5 798,357.5"/>
<path d="M838,250 C805,270 782,310 787,348"/>
<ellipse class="w" cx="1335" cy="618" rx="75" ry="128" transform="rotate(18 1335 618)"/>
<ellipse class="w" cx="1357" cy="626" rx="75" ry="128" transform="rotate(18 1357 626)"/>
<path class="w" d="M1375,558 L1480,582 L1505,700 L1420,770 L1318,700 L1318,600 C1325,575 1350,560 1375,558 Z"/>
<ellipse class="w" cx="1450" cy="675" rx="68" ry="97" transform="rotate(15 1450 675)"/>
<path d="M1318,650 L1383,668 L1383,750"/>
<path d="M1383,668 C1395,640 1410,628 1440,612"/>
<path class="w" d="M110,490 C110,450 130,410 160,385 C185,365 215,365 240,380 L290,420 L230,600 L165,570 L120,545 Z"/>
<path d="M120,480 L165,500 L165,570"/>
<path d="M165,500 C170,460 190,430 222,408"/>
<ellipse class="w" cx="262" cy="505" rx="92" ry="130" transform="rotate(20 262 505)"/>
<ellipse class="w" cx="280" cy="512" rx="92" ry="130" transform="rotate(20 280 512)"/>
<path class="w" d="M320,472 L1085,912 C1110,930 1105,990 1075,1015 C1060,1025 1045,1025 1035,1020 L300,595 C270,600 250,570 255,540 C258,500 290,470 320,472 Z"/>
<path d="M815,760 C780,785 765,835 780,872"/>
<path d="M855,783 C820,808 805,858 820,895"/>
<path d="M895,806 C860,831 845,881 860,918"/>
<path d="M935,829 C900,854 885,904 900,941"/>
<path d="M975,852 C940,877 925,927 940,964"/>
<path d="M1015,875 C980,900 965,950 980,987"/>
<path d="M1055,898 C1020,923 1005,973 1020,1010"/>
<path d="M1075,908 C1040,915 1010,960 1020,1000 C1022,1010 1028,1016 1035,1020"/>
<path d="M1150,0 C1160,20 1180,35 1200,38 L1270,20 L1275,170"/>
<path d="M1268,170 C1250,185 1248,225 1260,250 L1295,260 L1300,320 C1310,340 1330,355 1360,362 C1385,362 1420,355 1445,365 L1570,440"/>
<path d="M1605,460 L1643,485"/>
<path d="M1595,-10 L1595,400"/>
<path d="M1595,445 L1595,515"/>
<path d="M1595,565 L1595,1210"/>
<path d="M0,940 L440,1195"/>
<ellipse cx="1251" cy="1080" rx="104" ry="146" transform="rotate(30 1251 1080)"/>
<path d="M1215,960 C1170,1000 1150,1080 1160,1140 C1165,1170 1175,1190 1185,1200"/>
<ellipse cx="1272" cy="1088" rx="34" ry="56" transform="rotate(25 1272 1088)"/>
<path d="M1262,1040 C1245,1060 1240,1100 1250,1130"/>
<path d="M1325,1151 L1380,1198"/>
<path d="M1364,1142 L1460,1198"/>
</g></g>
<g clip-path="url(#c3)"><g transform="translate(0,500) scale(0.182593)"><!-- c_0_500.txt -->
<path d="M520,1643 L520,1440"/>
<path d="M520,1355 L520,1395"/>
<path d="M520,1310 L520,232 L1055,545"/>
<path d="M1335,705 L1643,885"/>
<path d="M1512,0 L1512,270"/>
<path d="M1512,315 L1512,355"/>
<path d="M1512,395 L1512,1643"/>
<g transform="translate(1262,650)"><use href="#screw"/></g>
<path d="M1205,755 L1155,1045"/>
</g></g>
<g clip-path="url(#c4)"><g transform="translate(300,600) scale(0.152161)"><!-- d1_300_600.txt -->
<path d="M465,0 L463,90 C455,75 420,70 390,75 C375,80 372,95 372,110 L368,190 C368,205 380,215 395,222 L440,247"/>
<path d="M390,225 L402,445 L372,728"/>
<path d="M0,398 L272,557"/>
<path d="M402,445 C420,400 460,365 500,368 C520,370 560,395 590,408 C605,420 610,450 612,480 L618,540"/>
<path d="M590,408 C550,405 500,420 480,470 C465,520 462,560 458,620 L437,790"/>
<ellipse cx="538" cy="503" rx="28" ry="50" transform="rotate(25 538 503)"/>
<path d="M385,480 C330,520 270,600 255,700 C250,760 270,800 300,815 L460,910"/>
<path d="M655,522 C600,555 540,590 510,625 C470,675 440,740 437,810 C437,860 460,905 500,918 C520,925 545,918 560,910 L720,845"/>
<ellipse cx="584" cy="740" rx="102" ry="144" transform="rotate(20 584 740)"/>
<path d="M583,737 L750,832 L750,1290"/>
<path d="M750,1335 L750,1390"/>
<path d="M750,1435 L750,1643"/>
<path d="M460,910 L458,1140 C458,1170 480,1190 520,1195 C560,1198 590,1185 618,1165 L680,1220"/>
<path d="M675,1180 C680,1250 700,1320 730,1385"/>
<path d="M770,1440 C800,1490 850,1525 900,1535 C950,1540 990,1520 1020,1505 L1118,1450"/>
<path d="M1025,1510 L1160,1590"/>
<path d="M1145,1495 C1150,1560 1170,1610 1190,1643"/>
</g></g>
<g clip-path="url(#c5)"><g transform="translate(350,750) scale(0.182593)"><!-- d2_350_750.txt -->
<path d="M105,0 L105,125 C110,160 150,180 185,178 C215,175 230,160 245,150 L285,190"/>
<path d="M287,160 C295,230 315,290 340,335"/>
<path d="M350,0 L350,255"/>
<path d="M350,290 L350,335"/>
<path d="M350,370 L350,790 L465,855"/>
<path d="M365,375 C400,430 450,460 500,462 C540,460 570,445 595,425 L660,385"/>
<path d="M585,432 L690,495"/>
<path d="M683,420 C690,500 720,580 790,640 C820,665 860,680 900,678 L920,665"/>
<path d="M900,680 L965,690 L975,680"/>
<path d="M955,690 L960,770 C970,790 985,795 1000,790 C1015,780 1030,770 1040,772 L1045,900"/>
<path d="M1035,900 C1030,910 1030,940 1040,955 L1060,960 L1062,1000 C1070,1020 1090,1030 1110,1032 C1130,1030 1150,1030 1170,1040 L1260,1095"/>
<path d="M1300,1118 L1360,1150"/>
<path d="M1362,1130 L1365,1180 C1375,1205 1400,1215 1425,1215 C1445,1210 1465,1210 1480,1220 L1643,1315"/>
<path d="M1278,405 L1360,455"/>
<path d="M1278,405 L1278,1055"/>
<path d="M1278,1095 L1278,1140"/>
<path d="M1278,1180 L1278,1643"/>
<path d="M85,755 L495,890"/>
<path d="M85,755 L205,1075"/>
<path d="M0,1395 L430,1643"/>
</g></g>
<g clip-path="url(#c6)"><g transform="translate(0,750) scale(0.304321)"><!-- d_0_750.txt -->
<path d="M313,0 L313,16"/>
<path d="M313,43 L313,752 L575,905"/>
<path d="M600,920 L622,932"/>
<path d="M645,945 L1500,1440"/>
<path d="M1530,1458 L1562,1476"/>
<path d="M1585,1490 L1643,1525"/>
<path d="M908,0 L908,350"/>
<path d="M908,380 L908,405"/>
<path d="M908,430 L908,697 L1500,1040"/>
<path d="M1530,1057 L1555,1072"/>
<path d="M1580,1087 L1643,1125"/>
</g></g>
<g clip-path="url(#c7)"><g transform="translate(1000,750) scale(0.304321)"><!-- f_1000_750.txt -->
<path d="M-10,0 L263,160 L263,355"/>
<path d="M263,382 L263,408"/>
<path d="M263,432 L263,1410"/>
<path d="M263,1437 L263,1462"/>
<path d="M263,1487 L263,1622 L0,1470"/>
</g></g>
<g clip-path="url(#c8)"><g transform="translate(50,2060) scale(0.152161)"><!-- fwd.txt -->
<path d="M145,605 L325,280 L385,308 L712,128 L770,150 L770,415 L380,628 L378,715 Z" style="stroke-width:3.1;stroke-linejoin:miter"/>
<path d="M382,352 L768,152" style="stroke-width:2.8"/>
<path d="M378,392 L750,192 L750,405" style="stroke-width:2.8"/>
<path d="M378,345 L378,628" style="stroke-width:2.8"/>
<path d="M200,612 L362,322 L380,350" style="stroke-width:2.8"/>
</g></g>
<g clip-path="url(#c9)"><g transform="translate(0,1250) scale(0.304321)"><!-- g_0_1250.txt -->
<path d="M770,640 L910,522 L928,532 L925,570 L820,655"/>
<path d="M835,645 L840,685 L890,715 C880,780 880,850 890,900 C905,990 960,1065 1045,1095"/>
<path d="M770,640 L750,655 L645,815"/>
<path d="M668,815 L610,812 C590,800 575,780 550,770 C530,765 510,768 495,775 C480,785 470,795 460,805 L330,1000"/>
<path d="M510,775 L545,768"/>
<path d="M335,1018 L290,1010 C280,1015 275,1025 270,1035 L225,1115 L215,1200 L208,1280"/>
<path d="M210,1278 L195,1280 L185,1228 L160,1265 L175,1355 L225,1358 L262,1385 L265,1412 L385,1290"/>
<path d="M375,1290 C390,1285 400,1290 410,1295 L432,1340"/>
<path d="M410,1295 L350,1430 C348,1445 355,1455 362,1465 L485,1643"/>
<path d="M750,1243 L705,1305 L845,1370"/>
<path d="M705,1305 C690,1330 670,1360 650,1380 L575,1440 C565,1450 560,1460 558,1475 L556,1555 L600,1575 L640,1568 L658,1612 L605,1643"/>
<path d="M845,1370 L965,1290 C980,1283 995,1285 1003,1293 L1040,1322 C1055,1330 1075,1330 1090,1322"/>
<path d="M1050,1315 L1280,1215 C1350,1180 1420,1150 1480,1140 C1540,1135 1600,1150 1643,1165"/>
<path d="M845,1370 C830,1390 820,1410 815,1430 L790,1500 L812,1520 L800,1575 L840,1615 L800,1643"/>
<path d="M790,1510 C770,1520 755,1535 750,1550 L735,1605 L745,1643"/>
<path d="M1010,1290 L1075,1000 L1040,955 L1048,840 C1055,830 1065,825 1075,822 L1140,795"/>
<path d="M1135,795 C1145,785 1160,785 1165,795 L1168,808"/>
<path d="M1140,800 L1285,915 L1643,1110"/>
<path d="M1285,915 C1330,870 1400,810 1525,745 L1555,755 L1620,900"/>
<path d="M1115,1285 C1105,1250 1110,1200 1120,1150 L1130,1095"/>
<path d="M1115,1105 C1120,1090 1130,1085 1140,1088 L1265,1175 C1275,1190 1278,1205 1275,1220"/>
<path d="M1130,1095 L1200,1150 L1210,1170 L1262,1215"/>
<path d="M1600,900 C1585,905 1580,925 1595,935"/>
<path d="M1600,910 L1643,925"/>
<path d="M1475,1475 C1470,1440 1480,1410 1495,1395 L1540,1375 C1560,1340 1580,1310 1610,1295"/>
<path d="M1620,1300 L1610,1370 L1555,1400 L1545,1455 L1478,1480"/>
<path d="M1085,315 L1055,555"/>
<path d="M1250,395 L1190,605"/>
<path d="M1215,695 L1400,805"/>
<path d="M1520,65 L1643,135"/>
<g transform="translate(1085,620) scale(0.4)"><use href="#nut"/></g>
<g transform="translate(1165,661) scale(0.4)"><use href="#washer"/></g>
</g></g>
<g clip-path="url(#c10)"><g transform="translate(1000,1300) scale(0.182593)"><!-- h1_1000_1300.txt -->
<path d="M0,85 L65,250 L205,335 L197,350"/>
<path d="M0,232 L400,462"/>
<path d="M0,300 C80,330 160,390 215,470 C235,500 250,530 260,560"/>
<path d="M65,410 C75,395 90,393 100,403 L165,460"/>
<path d="M70,420 L130,490 L240,590 L262,562"/>
<path d="M0,365 C5,368 12,375 15,385"/>
<path d="M0,510 L63,548"/>
<path d="M375,640 L385,530 C395,480 430,445 470,445 C490,445 500,470 515,500 L520,560 L375,640"/>
<ellipse cx="443" cy="522" rx="27" ry="42" transform="rotate(25 443 522)"/>
<path d="M267,578 L373,648"/>
<path d="M520,560 C535,585 550,600 570,620"/>
<path d="M735,870 L875,785 L900,800 L990,745 C1005,735 1030,735 1045,745 L1600,1070 C1615,1080 1615,1095 1600,1105 L1210,1345 C1150,1385 1080,1440 1030,1490 L985,1535"/>
<ellipse cx="1030" cy="935" rx="78" ry="57"/>
<path d="M965,915 C970,900 985,888 1000,885"/>
<path d="M1080,890 C1090,900 1095,915 1090,930"/>
<ellipse cx="1318" cy="1113" rx="78" ry="57"/>
<path d="M1252,1095 C1257,1080 1270,1068 1287,1063"/>
<path d="M1368,1068 C1378,1078 1383,1093 1378,1108"/>
<path d="M765,905 L995,1060 L945,1075"/>
<path d="M995,1060 C1005,1120 1010,1200 1000,1240 C985,1290 955,1320 915,1325"/>
<path d="M1020,1643 L990,1560"/>
</g></g>
<g clip-path="url(#c11)"><g transform="translate(1000,1400) scale(0.121729)"><!-- h2_1000_1400.txt -->
<path d="M95,0 L790,390 C870,440 950,530 1000,650 L1345,1643"/>
<path d="M780,30 C800,70 830,100 860,120 C900,170 950,270 1000,360 C1060,430 1110,500 1140,580 L1530,1643"/>
<path d="M635,125 L880,255 C920,280 960,310 990,350"/>
<path d="M290,0 L350,65 L385,60 L380,0"/>
<path d="M400,45 L560,150 L780,30"/>
<path d="M560,150 L555,100 L575,0"/>
<path d="M620,0 C630,25 670,30 690,5"/>
<path d="M0,45 L100,360 L70,375 L105,470 C105,490 95,510 80,525 L0,625"/>
<path d="M85,365 L1075,915"/>
<path d="M150,530 L1100,1065"/>
<path d="M0,800 L885,1320"/>
<path d="M1140,1110 L905,1320 L865,1643"/>
<path d="M1205,1240 C1150,1250 1110,1290 1112,1340 C1115,1385 1170,1410 1260,1400"/>
<path d="M1135,1310 C1140,1290 1150,1275 1160,1265"/>
<path d="M1110,485 L1310,350 L1345,385 L1500,290 C1520,280 1550,280 1570,290 L1643,335"/>
<path d="M1150,540 L1500,770 L1420,790 L1160,625"/>
<path d="M1500,770 C1510,850 1515,950 1505,1020 C1480,1110 1430,1165 1365,1170"/>
<path d="M1643,515 C1600,490 1520,490 1450,540 C1410,580 1420,640 1480,660 C1540,675 1610,660 1643,625"/>
<path d="M1445,570 C1455,545 1470,530 1490,520"/>
<path d="M1485,1480 L1643,1340"/>
<path d="M0,1445 L340,1643"/>
<path d="M0,1490 L35,1505"/>
<path d="M85,1530 L290,1643"/>
</g></g>
<g clip-path="url(#c12)"><g transform="translate(1000,1550) scale(0.152161)"><!-- h3_1000_1550.txt -->
<path d="M575,0 L710,70"/>
<path d="M820,0 L725,75 C718,90 715,100 715,115 L680,570"/>
<path d="M690,385 L840,465"/>
<path d="M680,570 C720,580 780,590 830,580 C850,570 860,550 865,520 C870,480 900,450 950,425 L1020,385 C1040,365 1060,340 1080,320"/>
<path d="M1060,390 C1085,385 1100,360 1095,330"/>
<path d="M965,0 L1090,320"/>
<path d="M1105,0 L1215,280 C1240,350 1250,420 1230,470 C1210,510 1160,525 1100,510 C1050,495 1000,460 955,428"/>
<path d="M950,15 C910,30 885,55 890,85 C895,120 940,140 1005,130"/>
<path d="M905,70 C905,50 915,35 930,28"/>
<path d="M1440,0 L1185,200"/>
<path d="M0,200 L30,215"/>
<path d="M70,240 L965,755"/>
<path d="M255,370 L258,405 L205,445 C190,460 195,480 210,490 L500,660 C520,670 545,668 560,655 L600,625 L603,575"/>
<path d="M1040,745 C1010,745 990,775 990,805 C990,825 1000,838 1010,840"/>
<path d="M1040,745 L1643,1085"/>
<path d="M995,835 L1643,1210"/>
<path d="M0,170 L660,555" style="stroke-width:1"/>
<path d="M1078,766 C1045,785 1028,828 1042,862"/>
<path d="M1123,791.5 C1090,810.5 1073,853.5 1087,887.5"/>
<path d="M1168,817 C1135,836 1118,879 1132,913"/>
<path d="M1213,842.5 C1180,861.5 1163,904.5 1177,938.5"/>
<path d="M1258,868 C1225,887 1208,930 1222,964"/>
<path d="M1303,893.5 C1270,912.5 1253,955.5 1267,989.5"/>
<path d="M1348,919 C1315,938 1298,981 1312,1015"/>
</g></g>
<g clip-path="url(#c13)"><g transform="translate(0,1750) scale(0.304321)"><!-- i_0_1750.txt -->
<path d="M485,0 L525,45 L540,95 C548,115 565,125 580,122 C600,118 612,90 610,60 L600,15 L625,0"/>
<path d="M745,0 C755,8 770,12 782,10 L805,45 L920,32 L990,15 C1010,15 1030,22 1045,40 L1050,85 L1115,150 L1090,235 L1050,325 L1035,355 L1040,418 L1068,422 L1100,395 L1082,385 C1095,345 1110,320 1130,300 L1260,205 L1390,105 C1410,92 1425,88 1440,85 L1643,58"/>
<path d="M1265,205 L1420,248 C1440,252 1465,250 1485,235 C1495,215 1485,190 1475,170 L1440,85"/>
<path d="M1465,150 L1643,70"/>
</g></g>
<g clip-path="url(#c14)"><g transform="translate(500,1700) scale(0.304321)"><!-- j_500_1700.txt -->
<path d="M0,228 C30,215 60,212 85,218 C105,225 118,240 125,260 L190,430 C195,445 205,452 218,452"/>
<path d="M208,412 C215,440 230,460 255,465 C290,472 330,470 360,460 C420,440 480,405 545,360"/>
<path d="M315,465 C320,440 320,400 318,370 C325,355 340,350 355,350 L548,348 C620,340 700,325 760,290 C800,270 830,250 855,225 L862,192 L880,178 L840,165 L795,200 L740,185"/>
<path d="M760,210 L790,205"/>
<path d="M655,0 C655,60 680,130 720,180 C735,195 755,205 775,210"/>
<path d="M735,185 L1135,0"/>
<path d="M680,115 L770,75 L740,0"/>
<path d="M920,0 L1130,118"/>
<path d="M1168,210 L1130,420"/>
<path d="M1302,268 L1340,468"/>
</g></g>
<g clip-path="url(#c15)"><g transform="translate(1100,1600) scale(0.304321)"><!-- k_1100_1600.txt -->
<path d="M190,208 L1230,795"/>
<path d="M172,257 L1195,838"/>
<path d="M1195,815 L1230,795 L1262,815"/>
<path d="M1195,815 L1195,860 L1228,878"/>
<path d="M1195,815 L1228,835 L1228,878"/>
<path d="M1228,835 L1262,815"/>
<ellipse class="w" cx="1280" cy="865" rx="50" ry="72" transform="rotate(20 1280 865)"/>
<path d="M765,600 L718,790"/>
</g></g>
<g clip-path="url(#c16)"><g transform="translate(580,770) scale(0.121729)"><!-- m1_580_770.txt -->
<path d="M28,445 L150,520"/>
<path d="M28,445 L28,1420"/>
<path d="M28,1490 L28,1560"/>
<path d="M28,1620 L28,1643"/>
<path d="M420,970 L230,860 C190,835 170,790 178,740 L212,370 C225,290 290,225 345,225 L450,280 C470,295 478,320 480,350 L488,415 L610,490"/>
<path d="M450,280 C380,280 310,340 295,420 L265,725"/>
<path d="M295,640 C330,570 400,490 480,460"/>
<ellipse cx="387" cy="395" rx="38" ry="66" transform="rotate(30 387 395)"/>
<path d="M705,545 C650,520 560,545 490,630 C420,720 385,840 400,920 C415,990 470,1015 540,990 C600,965 655,910 690,850"/>
<ellipse cx="578" cy="768" rx="123" ry="188" transform="rotate(25 578 768)"/>
<path d="M575,768 L1195,1125"/>
<path d="M1245,1155 L1300,1185"/>
<path d="M1355,1215 L1643,1385"/>
<path d="M1120,1643 L1270,1560 C1290,1540 1295,1500 1290,1440 C1300,1410 1330,1380 1370,1340 L1420,1290 C1430,1300 1425,1330 1400,1345 C1385,1355 1370,1355 1360,1350"/>
<path d="M1490,1260 L1540,1280 L1580,1275"/>
<path d="M1615,1325 L1643,1335"/>
<path d="M55,1530 L150,1585"/>
<path d="M160,1530 L160,1610 C165,1630 180,1640 195,1646"/>
</g></g>
<g clip-path="url(#c17)"><g transform="translate(750,750) scale(0.152161)"><!-- m2_750_750.txt -->
<path d="M720,0 L625,50 L628,28"/>
<path d="M625,50 C620,90 612,120 595,150 C590,165 610,175 608,195 C600,225 585,245 572,262 L540,255"/>
<path d="M572,262 C600,270 615,290 615,320 C612,350 605,380 625,395 C645,402 655,410 655,425 L655,455 L630,462"/>
<path d="M640,460 L565,840 C560,860 575,870 572,890 C568,915 550,930 548,955 C550,990 540,1030 515,1060 C495,1085 465,1100 450,1110 C440,1120 455,1135 445,1150 L420,1168 C400,1150 380,1130 365,1118"/>
<path d="M420,1168 C410,1140 400,1115 380,1110 C350,1110 325,1140 318,1175 C315,1200 322,1215 318,1230 L285,1248 L185,1190"/>
<path d="M75,1140 L125,1160 L150,1150"/>
<path d="M175,1190 L200,1200"/>
<path d="M0,1125 L365,1335"/>
<path d="M0,1165 C15,1170 20,1185 10,1200 L0,1210"/>
<path d="M585,1335 L888,1075"/>
<path d="M710,1530 L830,1603 L760,1643"/>
<path d="M1590,-8 L1643,22"/>
<ellipse class="w" cx="480" cy="1405" rx="88" ry="122" transform="rotate(20 480 1405)"/>
<ellipse cx="492" cy="1408" rx="80" ry="112" transform="rotate(20 492 1408)"/>
<path class="w" d="M545,1340 L660,1425 L600,1565 L470,1495 C440,1440 480,1350 545,1340 Z"/>
<path d="M548,1345 C505,1360 470,1430 478,1492"/>
<path d="M573,1359 C530,1374 495,1444 503,1506"/>
<path d="M598,1373 C555,1388 520,1458 528,1520"/>
<path d="M623,1387 C580,1402 545,1472 553,1534"/>
<path d="M648,1401 C605,1416 570,1486 578,1548"/>
<ellipse class="w" cx="638" cy="1495" rx="50" ry="70" transform="rotate(20 638 1495)"/>
<ellipse cx="638" cy="1495" rx="40" ry="58" transform="rotate(20 638 1495)"/>
<path d="M660,1470 C640,1455 615,1470 610,1500 C608,1525 625,1535 645,1525"/>
</g></g>
<g clip-path="url(#c18)"><g transform="translate(500,970) scale(0.170420)"><!-- m3_500_970.txt -->
<path d="M490,-5 L490,530 L305,430"/>
<ellipse cx="220" cy="378" rx="82" ry="115" transform="rotate(30 220 378)"/>
<path d="M205,285 C160,310 138,375 150,435 C155,458 168,472 182,477"/>
<ellipse cx="235" cy="380" rx="27" ry="48" transform="rotate(25 235 380)"/>
<path d="M228,338 C212,355 208,395 218,420"/>
<path d="M285,435 L620,728"/>
<path d="M600,0 C620,10 650,15 680,10 L915,135"/>
<path d="M930,100 C915,120 910,160 925,185 L1035,240 C1060,235 1085,200 1085,170 C1080,150 1070,140 1050,130 L1020,115"/>
<path d="M965,205 L975,210"/>
<path d="M1045,130 L1290,0"/>
<path d="M1643,465 L1510,545 L1510,1271"/>
<path d="M1510,1325 L1510,1361"/>
<path d="M1510,1405 L1510,1643"/>
<path d="M1350,990 C1365,985 1375,990 1385,998 L1430,1020"/>
<path d="M1375,1045 L1432,1020 C1445,1100 1470,1200 1490,1275"/>
<path d="M1450,1350 L1505,1335"/>
<path d="M1450,1350 C1460,1450 1475,1550 1490,1643"/>
<path d="M1525,1340 C1550,1400 1590,1450 1643,1480"/>
<path d="M1290,1380 L1480,1643"/>
<path d="M0,715 L200,832"/>
<path d="M0,1425 L50,1455 L50,1643"/>
</g></g>
<g clip-path="url(#c19)"><g transform="translate(530,1060) scale(0.121729)"><!-- m4_530_1060.txt -->
<path d="M290,0 L620,280"/>
<path d="M300,535 L120,430 C90,410 75,380 80,340 C85,250 120,150 190,105 C215,95 235,100 250,125 L330,250 C340,265 355,275 375,290 L1125,715 L1160,745 L1250,985"/>
<path d="M105,385 L295,283"/>
<ellipse cx="180" cy="228" rx="46" ry="80" transform="rotate(30 180 228)"/>
<path d="M300,535 C370,510 480,500 560,520 C600,530 630,545 650,555 L1040,780 L1125,715"/>
<path d="M380,535 L1165,980"/>
<path d="M0,400 L1020,985 L1020,1600"/>
<path d="M210,725 C215,700 240,690 270,695 L995,1100"/>
<path d="M450,1160 L990,1470"/>
<path d="M530,1335 L990,1590"/>
<path d="M1045,1130 L1130,1180"/>
<path d="M1045,1495 L1290,1643"/>
<path d="M250,1625 L300,1650"/>
<path d="M1050,1625 L1080,1643"/>
<path d="M95,490 C65,510 50,560 50,620 L60,680 L340,1460"/>
<path d="M262,700 L495,1310 L340,1460 C290,1510 240,1560 215,1643"/>
<ellipse cx="470" cy="950" rx="108" ry="44" transform="rotate(49 470 950)"/>
<path d="M1245,985 C1190,975 1120,1040 1100,1120 C1095,1160 1105,1185 1125,1195"/>
<path d="M1250,1000 C1200,1010 1140,1070 1130,1140 C1128,1170 1135,1190 1150,1200"/>
<path d="M1643,650 L1250,990"/>
<path d="M1140,1190 L1230,1250 C1250,1250 1265,1235 1275,1225 L1285,1245 C1320,1270 1350,1300 1365,1330 L1355,1335 L1375,1360 L1340,1385 L1370,1470 L1375,1480 C1400,1490 1420,1520 1425,1550 C1430,1580 1425,1610 1415,1643"/>
<path d="M1565,1195 L1643,1330"/>
<path d="M1500,1520 L1560,1643"/>
</g></g>
<g clip-path="url(#c20)"><g transform="translate(730,1000) scale(0.164334)"><!-- m5_730_1000.txt -->
<path d="M838,0 L165,380 L165,1140"/>
<path d="M165,1192 L165,1230"/>
<path d="M165,1277 L165,1643"/>
<path d="M460,1643 L460,525 L660,640"/>
<path d="M700,663 L745,688"/>
<path d="M785,712 L1643,1205"/>
<path d="M0,845 C30,850 60,870 85,890"/>
<path d="M25,905 C40,885 60,880 80,885"/>
<path d="M85,890 C100,980 125,1060 148,1130"/>
<path d="M100,1218 L150,1205"/>
<path d="M100,1218 C105,1320 120,1420 140,1500"/>
<path d="M0,1335 C40,1410 90,1470 140,1520"/>
<path d="M185,1195 C210,1270 250,1330 300,1370 L445,1475"/>
<path d="M300,1360 L375,1320 L440,1355"/>
<path d="M480,1380 L945,1643"/>
<path d="M480,1490 L510,1490"/>
<path d="M185,1545 C210,1575 260,1590 290,1570 C300,1555 295,1535 285,1528"/>
</g></g>
<g clip-path="url(#c21)"><g transform="translate(290,1200) scale(0.121729)"><!-- n1_290_1200.txt -->
<g transform="translate(1097,385)"><use href="#nut"/></g>
<g transform="translate(1298,505)"><use href="#washer"/></g>
<path d="M990,490 L445,930"/>
<path d="M1200,640 L870,1105"/>
<path d="M335,1195 L265,1643"/>
<path d="M745,1390 L670,1643"/>
<path d="M1415,570 L1643,705"/>
<path d="M1590,35 L1643,65"/>
</g></g>
<g clip-path="url(#c22)"><g transform="translate(800,1700) scale(0.097383)"><!-- n2_800_1700.txt -->
<g transform="translate(640,475) scale(1.22)"><use href="#washer"/></g>
<ellipse class="w" cx="900" cy="630" rx="125" ry="182" transform="rotate(25 900 630)"/>
<path d="M850,480 C800,530 770,620 780,700 C785,740 800,770 825,790"/>
<ellipse cx="916" cy="636" rx="106" ry="160" transform="rotate(25 916 636)"/>
<path class="w" d="M955,520 L1075,555 L1130,640 L1110,760 L1010,838 L935,795 L850,730 L850,640 C865,585 905,535 955,520 Z"/>
<path d="M855,690 L940,742 L935,795"/>
<path d="M940,742 C950,680 985,610 1045,572"/>
<path d="M955,520 C930,535 905,560 890,590"/>
<ellipse class="w" cx="1034" cy="694" rx="88" ry="130" transform="rotate(25 1034 694)"/>
<ellipse cx="1038" cy="694" rx="44" ry="76" transform="rotate(25 1038 694)"/>
<path d="M1070,655 C1050,625 1012,655 1004,702 C1000,735 1012,758 1040,750"/>
<path d="M555,650 L450,1320"/>
<path d="M990,835 L1105,1470"/>
<path d="M0,100 L455,375"/>
<path d="M495,0 C400,60 280,115 155,160"/>
<path d="M90,185 L0,240"/>
</g></g>
<g clip-path="url(#c23)"><g transform="translate(500,1250) scale(0.152161)"><!-- p1_500_1250.txt -->
<path d="M62,-5 L62,1620"/>
<path d="M0,265 L38,288"/>
<path d="M85,318 L590,610"/>
<path d="M775,725 L1015,860"/>
<path d="M1015,-5 L1015,22"/>
<path d="M1015,48 L1015,132"/>
<path d="M1015,185 L1015,860"/>
<path d="M400,0 C380,20 370,50 368,90 L345,450 C343,500 355,540 380,570 C400,590 420,600 440,610 L590,695"/>
<path d="M400,55 L855,312"/>
<path d="M540,690 L540,770 L490,800 C475,815 480,835 495,850 L530,865"/>
<path d="M200,1643 L410,1085 L455,1070 L640,555 C655,510 680,480 720,455 L1275,150 C1315,110 1340,50 1335,0"/>
<path d="M735,600 L1275,155"/>
<path d="M935,0 L1000,35"/>
<path d="M1040,60 L1230,165"/>
<path d="M1120,0 L1310,100"/>
<path d="M1410,0 C1450,80 1500,160 1560,195 C1590,190 1620,200 1643,215"/>
<path d="M1405,130 C1425,150 1430,200 1425,250 L1408,410"/>
<path d="M1643,265 C1600,250 1545,270 1525,330 C1510,390 1540,450 1600,480 C1620,488 1635,488 1643,485"/>
<path d="M1035,690 L1085,640 L1290,510 C1330,480 1390,475 1440,495 L1643,605"/>
<path d="M1095,645 L1560,910"/>
<path d="M990,520 C930,530 870,590 855,660 C845,720 870,750 910,750 C940,750 970,735 990,720"/>
<path d="M930,790 L990,745"/>
<path d="M655,628 C680,605 710,600 735,610 L810,665"/>
<path d="M715,650 C695,680 690,720 695,760 L700,865 L735,890 C750,860 780,830 820,825 L855,845"/>
<ellipse cx="778" cy="725" rx="34" ry="44" transform="rotate(20 778 725)"/>
<ellipse cx="772" cy="728" rx="20" ry="28" transform="rotate(20 772 728)"/>
<path d="M835,790 L845,830"/>
<path d="M880,820 L860,840"/>
<ellipse cx="912" cy="985" rx="33" ry="62" transform="rotate(30 912 985)"/>
<path d="M850,955 C870,920 900,895 925,890"/>
<path d="M590,810 C580,830 580,850 582,870 L600,1035 L1065,1303"/>
<path d="M1115,1332 L1643,1635"/>
<path d="M1643,995 L1130,1300"/>
<path d="M1085,1325 L1040,1350"/>
<path d="M1000,1375 L665,1565 L665,1650"/>
<path d="M1050,745 C1055,715 1095,695 1122,710 L1195,890 C1185,915 1150,925 1130,912 Z"/>
<path d="M1050,760 L1062,940 L1048,985"/>
<path d="M1062,940 L1095,850"/>
<path d="M1195,840 C1240,830 1280,850 1278,895 C1270,960 1190,1010 1110,1005 C1085,1000 1065,990 1055,975"/>
<path d="M1090,930 C1075,950 1065,970 1070,990"/>
<path d="M835,825 L1065,985"/>
<path d="M1100,1010 L1330,1140"/>
<path d="M1240,985 L1395,1070"/>
<path d="M1400,1170 L1643,1310"/>
<path d="M1600,1180 L1643,1205"/>
<path d="M1408,950 C1415,915 1450,900 1480,915 L1540,1050"/>
<path d="M1408,950 L1470,1080"/>
<path d="M1408,950 L1415,1110"/>
<path d="M1395,1170 C1440,1215 1530,1215 1590,1165 C1625,1135 1643,1100 1640,1070"/>
<path d="M1480,1115 C1510,1125 1545,1115 1565,1090"/>
<path d="M1425,1175 C1435,1160 1440,1150 1450,1140"/>
<path d="M1075,1643 L1320,1465"/>
</g></g>
<g clip-path="url(#c24)"><g transform="translate(750,1250) scale(0.152161)"><!-- p2_750_1250.txt -->
<path d="M47,-5 L47,975 L0,1000"/>
<path d="M367,-5 L367,628"/>
<path d="M367,685 L367,732"/>
<path d="M367,785 L367,1435 L555,1540"/>
<path d="M70,25 C100,55 150,65 180,50 C190,35 185,20 175,10"/>
<path d="M640,0 L1275,355"/>
<path d="M1275,360 L1455,200 C1470,185 1490,185 1505,195 L1555,225 L1643,420"/>
<path d="M1500,245 C1515,232 1535,228 1550,230"/>
<path d="M1275,360 L1090,530 C1065,555 1055,590 1065,615 C1080,640 1120,655 1150,665 C1180,675 1195,700 1195,740 C1190,790 1175,830 1160,865 L1165,975 L935,1245"/>
<path d="M65,275 C80,300 100,325 130,340 L175,365 C190,355 215,350 240,360 C280,375 320,405 345,435"/>
<path d="M390,490 L455,528 C470,518 500,515 525,525 C570,545 610,580 640,625 L655,650 L745,695 C760,685 790,682 815,692 C860,712 905,750 940,800 C980,850 1080,870 1160,868"/>
<path d="M0,235 C20,260 30,330 25,400 C20,440 10,470 0,480"/>
<ellipse cx="250" cy="558" rx="92" ry="150" transform="rotate(-17 250 558)"/>
<ellipse cx="545" cy="720" rx="100" ry="150" transform="rotate(-17 545 720)"/>
<ellipse cx="848" cy="885" rx="100" ry="150" transform="rotate(-17 848 885)"/>
<path d="M65,645 L345,800"/>
<path d="M390,825 L985,1170"/>
<path d="M0,600 L25,615"/>
<path d="M220,1085 L345,1155"/>
<path d="M390,1185 L685,1360"/>
<path d="M0,1215 L170,1310"/>
<path d="M0,1320 L560,1643"/>
<path d="M175,1165 C185,1135 225,1120 250,1135 L310,1300 C300,1330 260,1340 235,1325 Z"/>
<path d="M175,1165 L185,1400 L240,1330"/>
<path d="M310,1258 L345,1255"/>
<path d="M390,1285 C405,1310 400,1340 385,1360"/>
<path d="M175,1355 C165,1375 170,1395 185,1405 C215,1430 270,1428 310,1410 C330,1400 345,1390 360,1378"/>
<path d="M1545,895 L690,1385 C640,1415 620,1450 605,1490 L555,1643"/>
<path d="M1490,880 L1530,900"/>
<path d="M1250,985 L1260,1055"/>
<path d="M1643,770 C1600,775 1560,810 1545,850 C1540,880 1548,905 1565,915"/>
<path d="M1643,790 C1610,800 1580,830 1572,865 C1570,890 1580,905 1600,910"/>
<path d="M1535,625 L1600,585 L1643,600"/>
<path d="M1535,625 L1643,690"/>
<path d="M1555,700 L1620,740"/>
<path d="M1600,925 L1643,1050"/>
<path d="M1565,915 L1643,940"/>
<path d="M735,1643 C740,1560 800,1450 880,1405 C920,1385 950,1385 975,1395 L1020,1420 C1060,1460 1060,1540 1030,1643"/>
<path d="M810,1643 C820,1580 860,1500 920,1460 C960,1435 1000,1440 1020,1460 C1035,1480 1038,1500 1035,1520"/>
<path d="M830,1610 C840,1570 860,1520 890,1480 C880,1530 860,1580 835,1620"/>
<path d="M1145,1375 L1195,1352 L1212,1405 L1162,1428 Z"/>
<path d="M620,1590 L680,1545 L700,1600"/>
<path d="M620,1590 L650,1643"/>
<path d="M655,1610 L740,1643"/>
<path d="M330,1620 C350,1585 390,1555 430,1550 C445,1550 455,1555 465,1560"/>
<path d="M1643,1535 C1590,1565 1545,1600 1530,1643"/>
<path d="M1570,1590 L1643,1625"/>
</g></g>
<g clip-path="url(#c25)"><g transform="translate(500,1500) scale(0.152161)"><!-- p3_500_1500.txt -->
<path d="M62,40 L62,103"/>
<path d="M62,150 L62,275 L0,240"/>
<path d="M0,190 L50,175"/>
<path d="M210,0 C195,50 175,100 140,130 C120,148 100,158 85,165"/>
<path d="M0,290 C30,350 75,410 120,455 L215,650"/>
<path d="M165,520 L465,385 C530,355 590,320 640,290"/>
<path d="M690,258 C760,215 830,175 900,130 L1095,0"/>
<path d="M665,-5 L665,628 L800,708"/>
<path d="M470,385 L560,385 L640,432"/>
<path d="M690,462 L957,616"/>
<path d="M690,545 L760,580 L735,598 L870,690"/>
<path d="M255,640 L258,620 L325,625 L295,600 L330,575 L390,580 C405,560 400,540 410,525 C440,500 500,485 550,495 C575,500 590,510 600,518 L625,505 L640,515"/>
<path d="M0,590 L140,640 C200,655 280,660 340,670 L555,745 L558,770"/>
<path d="M0,770 L90,765 L700,765 C760,765 810,740 850,710 L960,625 C1020,580 1100,530 1180,505 L1200,595 L1320,685 C1345,760 1360,830 1355,890 C1350,920 1340,950 1320,975"/>
<ellipse cx="1095" cy="875" rx="56" ry="72" transform="rotate(15 1095 875)" style="stroke-dasharray:4.5 3.2"/>
<path d="M1120,850 C1095,845 1070,865 1070,890 C1070,905 1080,915 1095,915"/>
<path d="M1100,880 L1580,1160"/>
<path d="M1610,1175 L1643,1195"/>
<path d="M1175,1050 L1265,1000"/>
<path d="M1365,850 L1643,1015"/>
<path d="M1340,955 L1600,1110 L1643,1100"/>
<path d="M1345,950 L1365,1000"/>
<path d="M1345,1050 C1320,1130 1305,1230 1310,1350 C1315,1450 1340,1560 1395,1643"/>
<path d="M1325,1150 L1440,1265 L1540,1465 L1345,1550"/>
<path d="M1375,1200 L1643,1127"/>
<path d="M1590,1643 L1643,1625"/>
</g></g>
<g clip-path="url(#c26)"><g transform="translate(750,1500) scale(0.152161)"><!-- p4_750_1500.txt -->
<path d="M0,3 L450,265"/>
<path d="M555,0 L200,970 C175,1040 130,1085 80,1105 C50,1118 20,1122 0,1125"/>
<path d="M0,1015 L115,1082"/>
<path d="M715,0 L1580,490"/>
<path d="M1620,515 L1643,528"/>
<path d="M635,0 L650,20 L680,0"/>
<path d="M725,20 C735,65 780,105 835,117 C855,120 872,116 885,110"/>
<path d="M925,88 C970,60 1000,30 1015,0"/>
<path d="M810,70 C830,85 850,92 865,95"/>
<path d="M1535,0 L1445,35 L1425,295 L1470,335 L1500,325 C1490,350 1490,380 1500,400 C1510,420 1540,435 1570,450 L1643,490"/>
<path d="M1530,20 L1505,280"/>
<ellipse cx="1083" cy="508" rx="75" ry="120" transform="rotate(25 1083 508)"/>
<path d="M1600,525 L1525,575 L1530,625 C1530,670 1510,700 1480,725 L1000,1090 C850,1200 700,1290 560,1355 L430,1413"/>
<path d="M375,1440 L0,1610"/>
<path d="M0,1195 L15,1200"/>
<path d="M55,1225 L620,1550"/>
</g></g>
<g clip-path="url(#c27)"><g transform="translate(650,1680) scale(0.121729)"><!-- q_650_1680.txt -->
<path d="M415,0 C395,120 395,250 430,400 C455,510 510,610 600,655 C640,678 690,685 740,685"/>
<path d="M445,0 L490,25 L600,5"/>
<path d="M480,35 L570,100 L695,350 L450,465"/>
<path d="M580,635 L1300,320"/>
<path d="M1360,290 C1460,250 1560,200 1643,148"/>
<path d="M790,0 L835,22"/>
<path d="M885,50 L1595,462"/>
<path d="M650,670 C720,660 790,620 850,575 L965,600 L910,640 L895,735 L870,750 C700,870 600,940 400,990 C250,1020 100,1035 0,1033"/>
<path d="M130,1040 C135,1065 120,1085 90,1100 L0,1150"/>
</g></g>
<g clip-path="url(#c28)"><g transform="translate(380,1500) scale(0.121729)"><!-- r_380_1500.txt -->
<path d="M0,130 L90,240 L400,0"/>
<path d="M90,240 L640,595 C680,615 720,630 760,645 L1100,780 C1150,800 1200,805 1260,812 C1330,822 1400,835 1450,850 L1643,920"/>
<path d="M0,1030 L330,860 C420,820 520,795 600,795 C650,795 680,810 720,835 L850,915 C900,945 950,960 1000,962 L1100,958 L1643,955"/>
<path d="M0,870 C30,880 60,910 68,950 L60,995"/>
<path d="M0,925 C20,940 35,965 40,1000"/>
<ellipse cx="866" cy="238" rx="33" ry="50" transform="rotate(20 866 238)"/>
<path d="M870,235 L1060,345 L1060,185"/>
<path d="M1060,60 L1060,120"/>
<path d="M960,245 L1035,225"/>
<path d="M850,0 L955,215 L935,232"/>
<path d="M985,340 C1020,430 1070,510 1140,570 L1260,810"/>
<path d="M1190,650 L1643,430"/>
<path d="M1580,475 C1600,480 1620,485 1643,485"/>
<path d="M1250,0 C1230,80 1190,160 1090,215"/>
<path d="M1305,800 L1308,775 L1390,780 L1355,750 L1395,720 L1470,730 C1490,700 1480,670 1500,655 C1540,620 1600,610 1643,612"/>
<path d="M555,1635 C545,1560 560,1480 600,1440 C630,1410 680,1395 730,1390 C745,1330 770,1260 810,1215 C840,1185 890,1170 920,1180 C935,1190 940,1205 935,1220"/>
<path d="M905,1185 C920,1250 915,1330 895,1390 C870,1410 830,1420 800,1440 C770,1470 755,1520 745,1595 L555,1640"/>
</g></g>
<g clip-path="url(#c29)"><g transform="translate(790,920) scale(0.060864)"><!-- s4_790_920.txt -->
<path d="M0,385 L260,545"/>
<path d="M1110,1035 L1430,1215 L660,1643"/>
<path d="M790,530 L1460,0"/>
<path d="M0,290 L45,320 L135,275 L140,195 C160,120 200,60 250,20"/>
<path d="M250,40 L385,130 L470,85 L465,40 L490,0"/>
<path d="M340,0 C380,30 395,70 385,125"/>
<ellipse class="w" cx="562" cy="720" rx="198" ry="316" transform="rotate(30 562 720)"/>
<ellipse cx="582" cy="726" rx="186" ry="300" transform="rotate(30 582 726)"/>
<ellipse class="w" cx="625" cy="770" rx="123" ry="225" transform="rotate(30 625 770)"/>
<ellipse class="w" cx="687" cy="802" rx="120" ry="220" transform="rotate(30 687 802)"/>
<ellipse class="w" cx="749" cy="834" rx="117" ry="215" transform="rotate(30 749 834)"/>
<ellipse class="w" cx="811" cy="866" rx="114" ry="210" transform="rotate(30 811 866)"/>
<ellipse class="w" cx="873" cy="898" rx="111" ry="205" transform="rotate(30 873 898)"/>
<ellipse class="w" cx="935" cy="930" rx="108" ry="200" transform="rotate(30 935 930)"/>
<ellipse cx="937" cy="935" rx="80" ry="152" transform="rotate(30 937 935)"/>
<path d="M1000,880 C995,840 960,825 925,850 C885,885 870,950 885,995 C900,1030 940,1030 975,1000"/>
</g></g>
<text x="384.1" y="301" font-size="32" text-anchor="middle">5</text>
<text x="209.1" y="721" font-size="32" text-anchor="middle">4</text>
<text x="349.4" y="893" font-size="32" text-anchor="middle">2</text>
<text x="1316.7" y="1871" font-size="32" text-anchor="middle">1</text>
<text x="893.0" y="911" font-size="32" text-anchor="middle">4</text>
<text x="617.4" y="1107" font-size="32" text-anchor="middle">7</text>
<text x="332.0" y="1336" font-size="32" text-anchor="middle">3</text>
<text x="385.8" y="1363" font-size="32" text-anchor="middle">6</text>
<text x="843.3" y="1856" font-size="32" text-anchor="middle">6</text>
<text x="910.2" y="1873" font-size="32" text-anchor="middle">3</text>
<text x="69" y="2212" font-size="32" letter-spacing="-0.12" id="partno">8FA3100-C170</text>
<text transform="matrix(0.58,-0.317,-0.16,1,107.8,2150.5)" font-size="40" font-weight="bold" style="stroke:#000;stroke-width:1.9px;stroke-linejoin:round" id="fwd">FWD</text>

</svg>
</body></html>
